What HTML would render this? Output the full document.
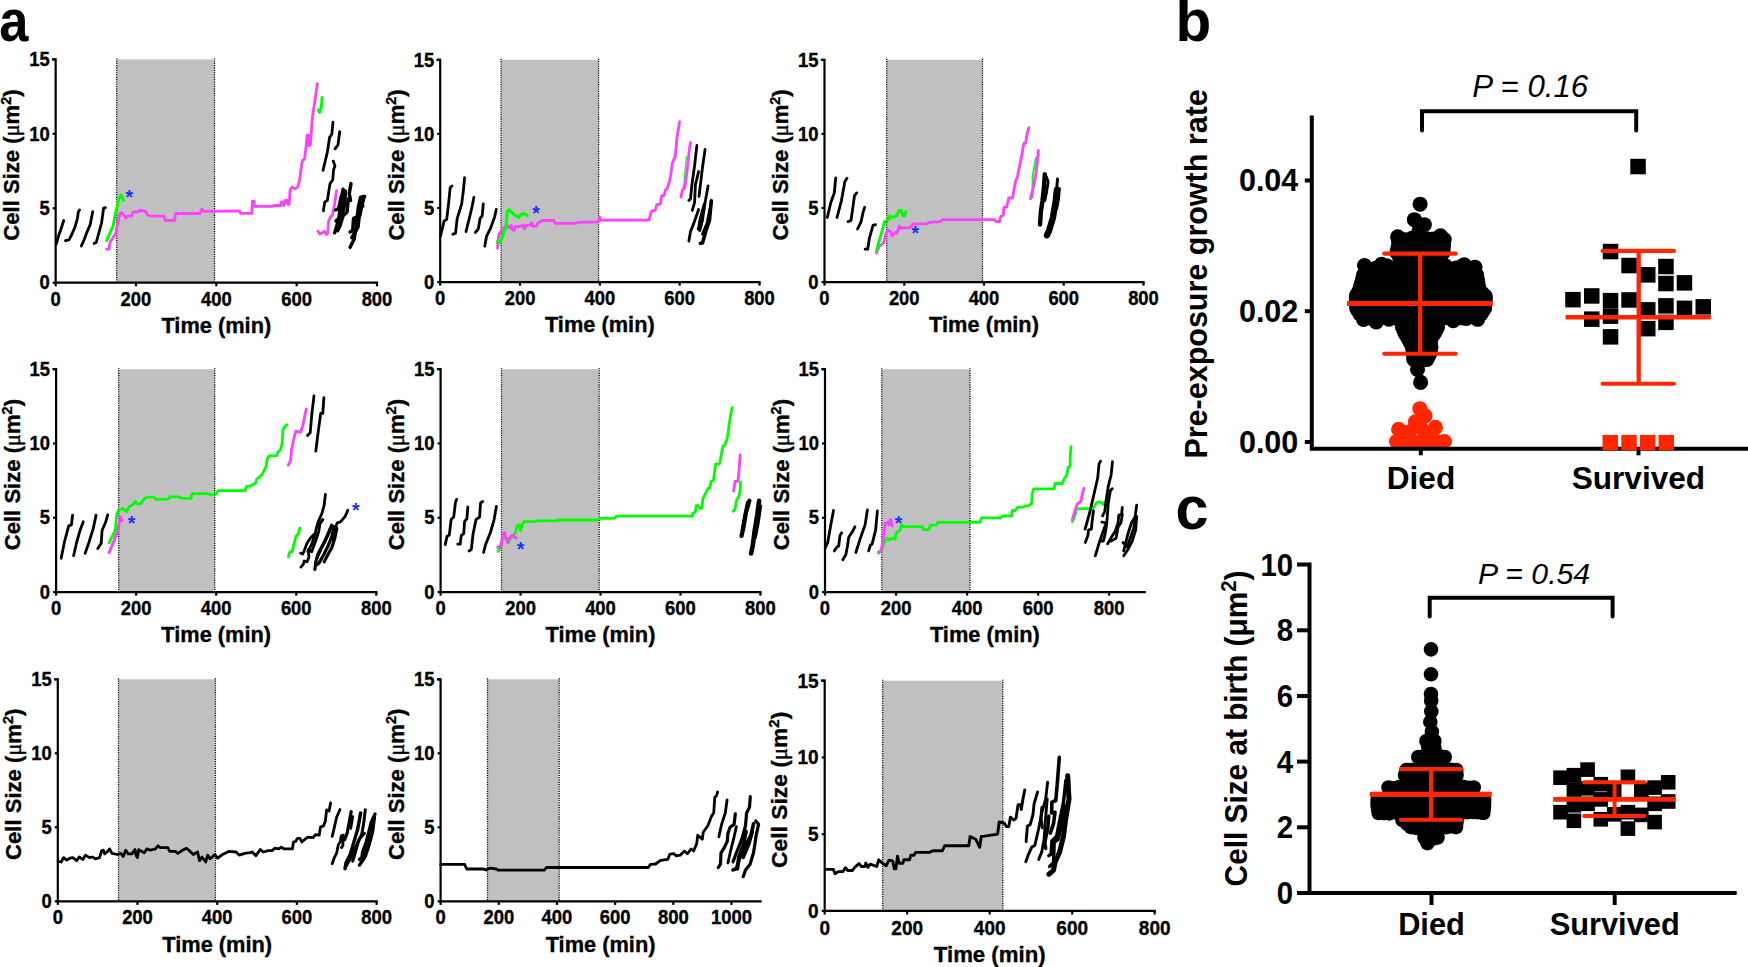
<!DOCTYPE html>
<html lang="en"><head><meta charset="utf-8"><title>Figure</title>
<style>html,body{margin:0;padding:0;background:#fff}svg{display:block}</style>
</head><body>
<svg width="1748" height="967" viewBox="0 0 1748 967">
<rect width="1748" height="967" fill="#fff"/>
<g id="p1">
<rect x="116.7" y="59.4" width="97.8" height="223.3" fill="#c0c0c0"/>
<line x1="116.7" y1="58.4" x2="116.7" y2="282.7" stroke="#000" stroke-width="1.3" stroke-dasharray="1.1 1.2"/>
<line x1="214.5" y1="58.4" x2="214.5" y2="282.7" stroke="#000" stroke-width="1.3" stroke-dasharray="1.1 1.2"/>
<polyline points="56.2,244.2 58.5,236.0 61.0,229.0 63.7,220.5" fill="none" stroke="#000" stroke-width="2.8" stroke-linecap="round" stroke-linejoin="round"/>
<polyline points="65.5,240.7 69.0,239.8 72.0,234.0 75.1,226.7 77.5,218.0 78.3,212.0 79.5,210.0" fill="none" stroke="#000" stroke-width="2.8" stroke-linecap="round" stroke-linejoin="round"/>
<polyline points="81.3,246.0 84.0,240.0 87.0,232.0 90.1,224.9 91.5,218.0 92.7,211.7" fill="none" stroke="#000" stroke-width="2.8" stroke-linecap="round" stroke-linejoin="round"/>
<polyline points="94.1,243.4 96.2,242.5 98.0,236.0 101.5,223.1 102.8,214.0 103.6,208.2 105.4,207.7" fill="none" stroke="#000" stroke-width="2.8" stroke-linecap="round" stroke-linejoin="round"/>
<polyline points="106.8,240.4 110.0,233.0 112.9,226.7 115.0,216.0 117.0,207.0 119.1,197.7 120.8,195.0 122.0,196.5 123.5,200.3" fill="none" stroke="#00ff00" stroke-width="3.0" stroke-linecap="round" stroke-linejoin="round"/>
<polyline points="106.6,249.2 108.9,249.2 110.0,242.5 113.0,237.5 115.6,233.7 117.5,224.0 120.0,213.5 121.7,212.6 124.0,215.5 126.1,217.9 127.9,216.1 131.4,216.1 133.1,212.2 138.4,211.7 139.3,210.5 145.4,211.2 147.2,214.4 149.8,216.1 163.9,216.1 165.1,220.5 174.4,220.5 175.7,213.5 199.9,213.5 201.7,209.1 203.4,211.4 239.5,210.8 240.4,213.4 251.8,213.4 252.4,201.1 254.1,201.1 254.5,206.4 272.0,206.4 273.8,205.5 280.8,205.5 281.2,202.0 282.6,202.0 284.0,205.5 285.2,200.3 287.0,200.3 287.9,204.3 289.3,204.3 290.0,190.6 291.7,187.1 294.9,188.8 297.5,187.1 299.3,181.8 300.8,171.0 302.3,160.7 304.6,159.0 306.0,147.0 307.2,135.2 309.0,135.2 309.0,145.8 310.4,144.9 311.1,134.4 312.5,116.8 315.0,100.0 317.4,83.7" fill="none" stroke="#ff40ff" stroke-width="2.8" stroke-linecap="round" stroke-linejoin="round"/>
<polyline points="322.1,97.5 321.3,108.0 319.5,112.4 318.1,109.8" fill="none" stroke="#00ff00" stroke-width="3.0" stroke-linecap="round" stroke-linejoin="round"/>
<polyline points="333.0,122.1 331.8,134.4 329.7,137.0 327.4,151.9 325.5,160.0 323.0,170.4" fill="none" stroke="#000" stroke-width="2.8" stroke-linecap="round" stroke-linejoin="round"/>
<polyline points="339.7,131.7 338.0,144.9 335.0,148.8" fill="none" stroke="#000" stroke-width="2.8" stroke-linecap="round" stroke-linejoin="round"/>
<polyline points="333.2,161.1 335.0,166.0 333.6,169.5 332.7,180.0 330.0,183.6 327.4,200.3 324.8,202.0 323.4,210.8" fill="none" stroke="#000" stroke-width="2.8" stroke-linecap="round" stroke-linejoin="round"/>
<polyline points="318.0,231.1 319.8,234.1 324.6,231.5 326.4,234.6 327.7,233.3 328.6,221.0 330.3,217.5 332.5,214.8 334.7,203.4 336.5,190.7" fill="none" stroke="#ff40ff" stroke-width="2.8" stroke-linecap="round" stroke-linejoin="round"/>
<polyline points="334.7,232.8 338.7,219.2 341.7,196.4 343.1,189.3" fill="none" stroke="#000" stroke-width="3.5" stroke-linecap="round" stroke-linejoin="round"/>
<polyline points="337.8,230.6 341.3,219.2 344.8,203.4 345.3,191.1" fill="none" stroke="#000" stroke-width="3.5" stroke-linecap="round" stroke-linejoin="round"/>
<polyline points="335.6,210.0 338.7,208.7 341.3,196.4" fill="none" stroke="#000" stroke-width="3.5" stroke-linecap="round" stroke-linejoin="round"/>
<polyline points="339.5,227.1 343.1,215.7 347.0,212.2 348.3,199.0 350.5,200.3 349.2,193.7 351.0,183.6" fill="none" stroke="#000" stroke-width="3.5" stroke-linecap="round" stroke-linejoin="round"/>
<polyline points="336.0,221.0 340.0,218.0 343.5,205.0 345.0,195.0" fill="none" stroke="#000" stroke-width="3.5" stroke-linecap="round" stroke-linejoin="round"/>
<polyline points="350.1,247.3 354.0,239.4 356.2,226.2 358.4,206.9 360.6,197.2 364.6,196.4" fill="none" stroke="#000" stroke-width="3.5" stroke-linecap="round" stroke-linejoin="round"/>
<polyline points="350.1,232.0 352.7,230.6 353.6,218.3 359.8,215.7 361.5,206.9 364.1,196.8" fill="none" stroke="#000" stroke-width="3.5" stroke-linecap="round" stroke-linejoin="round"/>
<polyline points="351.8,237.7 358.0,227.1 360.2,207.8 362.8,206.0" fill="none" stroke="#000" stroke-width="3.5" stroke-linecap="round" stroke-linejoin="round"/>
<text transform="translate(129.30 204.00)" font-family="Liberation Sans, Arial, sans-serif" font-size="19.5" font-weight="bold" font-style="normal" text-anchor="middle" fill="#1432ff" >*</text>
<path d="M53.05 59.4H55.65V282.7H377.0" fill="none" stroke="#000" stroke-width="2.2" stroke-linecap="square"/>
<line x1="52.65" y1="282.70" x2="55.65" y2="282.70" stroke="#000" stroke-width="2.2"/>
<text transform="translate(49.65 289.40) scale(0.945 1)" font-family="Liberation Sans, Arial, sans-serif" font-size="19.5" font-weight="bold" font-style="normal" text-anchor="end" fill="#000" stroke="#000" stroke-width="0.35">0</text>
<line x1="52.65" y1="208.27" x2="55.65" y2="208.27" stroke="#000" stroke-width="2.2"/>
<text transform="translate(49.65 214.97) scale(0.945 1)" font-family="Liberation Sans, Arial, sans-serif" font-size="19.5" font-weight="bold" font-style="normal" text-anchor="end" fill="#000" stroke="#000" stroke-width="0.35">5</text>
<line x1="52.65" y1="133.83" x2="55.65" y2="133.83" stroke="#000" stroke-width="2.2"/>
<text transform="translate(49.65 140.53) scale(0.945 1)" font-family="Liberation Sans, Arial, sans-serif" font-size="19.5" font-weight="bold" font-style="normal" text-anchor="end" fill="#000" stroke="#000" stroke-width="0.35">10</text>
<line x1="52.65" y1="59.40" x2="55.65" y2="59.40" stroke="#000" stroke-width="2.2"/>
<text transform="translate(49.65 66.10) scale(0.945 1)" font-family="Liberation Sans, Arial, sans-serif" font-size="19.5" font-weight="bold" font-style="normal" text-anchor="end" fill="#000" stroke="#000" stroke-width="0.35">15</text>
<line x1="55.65" y1="282.7" x2="55.65" y2="286.3" stroke="#000" stroke-width="2.2"/>
<text transform="translate(55.65 305.80) scale(0.945 1)" font-family="Liberation Sans, Arial, sans-serif" font-size="19.5" font-weight="bold" font-style="normal" text-anchor="middle" fill="#000" stroke="#000" stroke-width="0.35">0</text>
<line x1="135.99" y1="282.7" x2="135.99" y2="286.3" stroke="#000" stroke-width="2.2"/>
<text transform="translate(135.99 305.80) scale(0.945 1)" font-family="Liberation Sans, Arial, sans-serif" font-size="19.5" font-weight="bold" font-style="normal" text-anchor="middle" fill="#000" stroke="#000" stroke-width="0.35">200</text>
<line x1="216.33" y1="282.7" x2="216.33" y2="286.3" stroke="#000" stroke-width="2.2"/>
<text transform="translate(216.33 305.80) scale(0.945 1)" font-family="Liberation Sans, Arial, sans-serif" font-size="19.5" font-weight="bold" font-style="normal" text-anchor="middle" fill="#000" stroke="#000" stroke-width="0.35">400</text>
<line x1="296.66" y1="282.7" x2="296.66" y2="286.3" stroke="#000" stroke-width="2.2"/>
<text transform="translate(296.66 305.80) scale(0.945 1)" font-family="Liberation Sans, Arial, sans-serif" font-size="19.5" font-weight="bold" font-style="normal" text-anchor="middle" fill="#000" stroke="#000" stroke-width="0.35">600</text>
<line x1="377.00" y1="282.7" x2="377.00" y2="286.3" stroke="#000" stroke-width="2.2"/>
<text transform="translate(377.00 305.80) scale(0.945 1)" font-family="Liberation Sans, Arial, sans-serif" font-size="19.5" font-weight="bold" font-style="normal" text-anchor="middle" fill="#000" stroke="#000" stroke-width="0.35">800</text>
<text transform="translate(216.33 333.00)" font-family="Liberation Sans, Arial, sans-serif" font-size="21.8" font-weight="bold" font-style="normal" text-anchor="middle" fill="#000" stroke="#000" stroke-width="0.35">Time (min)</text>
<text transform="translate(19.25 165.05) rotate(-90)" font-family="Liberation Sans, Arial, sans-serif" font-size="22.1" font-weight="bold" font-style="normal" text-anchor="middle" fill="#000" stroke="#000" stroke-width="0.35">Cell Size (<tspan font-family="Liberation Serif, serif" font-weight="normal">μ</tspan>m<tspan dy="-8" font-size="14.5">2</tspan><tspan dy="8">)</tspan></text>
</g>
<g id="p2">
<rect x="501.1" y="59.8" width="97.5" height="222.2" fill="#c0c0c0"/>
<line x1="501.1" y1="58.8" x2="501.1" y2="282.05" stroke="#000" stroke-width="1.3" stroke-dasharray="1.1 1.2"/>
<line x1="598.6" y1="58.8" x2="598.6" y2="282.05" stroke="#000" stroke-width="1.3" stroke-dasharray="1.1 1.2"/>
<polyline points="440.5,236.0 444.1,221.1 446.7,219.3 448.5,204.4 450.2,187.7 452.0,185.9" fill="none" stroke="#000" stroke-width="2.8" stroke-linecap="round" stroke-linejoin="round"/>
<polyline points="452.8,234.2 455.5,233.4 457.2,218.4 461.6,204.4 463.4,190.3 464.6,177.6" fill="none" stroke="#000" stroke-width="2.8" stroke-linecap="round" stroke-linejoin="round"/>
<polyline points="466.0,231.6 469.5,217.5 472.2,206.1 473.9,197.3" fill="none" stroke="#000" stroke-width="2.8" stroke-linecap="round" stroke-linejoin="round"/>
<polyline points="475.3,232.5 478.3,229.0 480.1,218.4 482.2,215.8 483.3,204.0" fill="none" stroke="#000" stroke-width="2.8" stroke-linecap="round" stroke-linejoin="round"/>
<polyline points="484.8,246.2 486.6,236.0 490.6,228.1 494.7,216.7 496.3,209.3" fill="none" stroke="#000" stroke-width="2.8" stroke-linecap="round" stroke-linejoin="round"/>
<polyline points="497.5,248.3 497.8,243.0 498.9,234.2 502.1,229.8 504.7,227.2 508.2,226.3 510.0,228.1 511.2,225.4 512.6,229.8 514.4,230.4 515.2,226.3 517.9,226.9 523.1,225.4 524.6,228.6 525.8,225.4 530.2,225.1 531.6,222.8 532.8,226.3 536.3,226.0 538.1,222.8 542.5,220.5 553.9,220.5 555.1,223.3 575.9,223.3 577.6,222.3 598.4,221.9 599.6,217.0 600.8,220.2 623.3,220.2 648.9,220.1 651.5,211.3 655.4,209.9 656.8,204.6 660.3,204.2 661.7,195.8 664.2,195.4 665.2,190.2 667.3,188.4 670.0,179.6 672.6,162.1 675.2,156.8 677.0,137.5 679.6,121.6" fill="none" stroke="#ff40ff" stroke-width="2.8" stroke-linecap="round" stroke-linejoin="round"/>
<polyline points="497.1,242.1 499.4,243.0 502.9,236.0 504.2,230.7 505.9,229.0 507.3,211.4 509.1,209.6 513.5,214.0 516.1,215.8 518.8,217.5 521.4,214.0 524.9,213.7 527.0,215.3" fill="none" stroke="#00ff00" stroke-width="3.0" stroke-linecap="round" stroke-linejoin="round"/>
<polyline points="686.3,156.4 684.0,183.1 681.4,197.6" fill="none" stroke="#00ff00" stroke-width="1.2" stroke-linecap="round" stroke-linejoin="round"/>
<polyline points="680.9,197.2 682.3,190.2 684.9,187.5 687.5,167.3 689.3,149.8 690.5,142.7" fill="none" stroke="#ff40ff" stroke-width="2.8" stroke-linecap="round" stroke-linejoin="round"/>
<polyline points="696.9,145.4 694.6,165.6 691.9,184.9 690.5,199.0 688.8,200.4" fill="none" stroke="#000" stroke-width="2.8" stroke-linecap="round" stroke-linejoin="round"/>
<polyline points="705.1,149.4 702.5,167.3 700.4,184.9 699.0,196.3" fill="none" stroke="#000" stroke-width="2.8" stroke-linecap="round" stroke-linejoin="round"/>
<polyline points="698.6,171.7 695.4,184.9 694.6,202.5 692.3,210.4" fill="none" stroke="#000" stroke-width="2.8" stroke-linecap="round" stroke-linejoin="round"/>
<polyline points="708.1,185.8 705.1,202.5 702.5,220.1 699.8,230.6 698.1,228.8" fill="none" stroke="#000" stroke-width="2.8" stroke-linecap="round" stroke-linejoin="round"/>
<polyline points="711.3,200.7 709.5,220.1 706.0,230.6 702.5,242.9 700.4,243.3" fill="none" stroke="#000" stroke-width="3.6" stroke-linecap="round" stroke-linejoin="round"/>
<polyline points="698.6,209.5 693.7,223.6 690.5,231.5 688.9,241.1" fill="none" stroke="#000" stroke-width="2.8" stroke-linecap="round" stroke-linejoin="round"/>
<polyline points="704.2,204.2 699.8,220.1 698.6,228.8" fill="none" stroke="#000" stroke-width="2.8" stroke-linecap="round" stroke-linejoin="round"/>
<polyline points="711.3,202.5 706.9,223.6 702.5,234.1" fill="none" stroke="#000" stroke-width="2.8" stroke-linecap="round" stroke-linejoin="round"/>
<text transform="translate(535.98 219.88)" font-family="Liberation Sans, Arial, sans-serif" font-size="19.5" font-weight="bold" font-style="normal" text-anchor="middle" fill="#1432ff" >*</text>
<path d="M437.59999999999997 59.8H440.2V282.05H759.5" fill="none" stroke="#000" stroke-width="2.2" stroke-linecap="square"/>
<line x1="437.2" y1="282.05" x2="440.2" y2="282.05" stroke="#000" stroke-width="2.2"/>
<text transform="translate(434.20 288.75) scale(0.945 1)" font-family="Liberation Sans, Arial, sans-serif" font-size="19.5" font-weight="bold" font-style="normal" text-anchor="end" fill="#000" stroke="#000" stroke-width="0.35">0</text>
<line x1="437.2" y1="207.97" x2="440.2" y2="207.97" stroke="#000" stroke-width="2.2"/>
<text transform="translate(434.20 214.67) scale(0.945 1)" font-family="Liberation Sans, Arial, sans-serif" font-size="19.5" font-weight="bold" font-style="normal" text-anchor="end" fill="#000" stroke="#000" stroke-width="0.35">5</text>
<line x1="437.2" y1="133.88" x2="440.2" y2="133.88" stroke="#000" stroke-width="2.2"/>
<text transform="translate(434.20 140.58) scale(0.945 1)" font-family="Liberation Sans, Arial, sans-serif" font-size="19.5" font-weight="bold" font-style="normal" text-anchor="end" fill="#000" stroke="#000" stroke-width="0.35">10</text>
<line x1="437.2" y1="59.80" x2="440.2" y2="59.80" stroke="#000" stroke-width="2.2"/>
<text transform="translate(434.20 66.50) scale(0.945 1)" font-family="Liberation Sans, Arial, sans-serif" font-size="19.5" font-weight="bold" font-style="normal" text-anchor="end" fill="#000" stroke="#000" stroke-width="0.35">15</text>
<line x1="440.20" y1="282.05" x2="440.20" y2="285.65000000000003" stroke="#000" stroke-width="2.2"/>
<text transform="translate(440.20 305.15) scale(0.945 1)" font-family="Liberation Sans, Arial, sans-serif" font-size="19.5" font-weight="bold" font-style="normal" text-anchor="middle" fill="#000" stroke="#000" stroke-width="0.35">0</text>
<line x1="520.02" y1="282.05" x2="520.02" y2="285.65000000000003" stroke="#000" stroke-width="2.2"/>
<text transform="translate(520.02 305.15) scale(0.945 1)" font-family="Liberation Sans, Arial, sans-serif" font-size="19.5" font-weight="bold" font-style="normal" text-anchor="middle" fill="#000" stroke="#000" stroke-width="0.35">200</text>
<line x1="599.85" y1="282.05" x2="599.85" y2="285.65000000000003" stroke="#000" stroke-width="2.2"/>
<text transform="translate(599.85 305.15) scale(0.945 1)" font-family="Liberation Sans, Arial, sans-serif" font-size="19.5" font-weight="bold" font-style="normal" text-anchor="middle" fill="#000" stroke="#000" stroke-width="0.35">400</text>
<line x1="679.67" y1="282.05" x2="679.67" y2="285.65000000000003" stroke="#000" stroke-width="2.2"/>
<text transform="translate(679.67 305.15) scale(0.945 1)" font-family="Liberation Sans, Arial, sans-serif" font-size="19.5" font-weight="bold" font-style="normal" text-anchor="middle" fill="#000" stroke="#000" stroke-width="0.35">600</text>
<line x1="759.50" y1="282.05" x2="759.50" y2="285.65000000000003" stroke="#000" stroke-width="2.2"/>
<text transform="translate(759.50 305.15) scale(0.945 1)" font-family="Liberation Sans, Arial, sans-serif" font-size="19.5" font-weight="bold" font-style="normal" text-anchor="middle" fill="#000" stroke="#000" stroke-width="0.35">800</text>
<text transform="translate(599.85 332.35)" font-family="Liberation Sans, Arial, sans-serif" font-size="21.8" font-weight="bold" font-style="normal" text-anchor="middle" fill="#000" stroke="#000" stroke-width="0.35">Time (min)</text>
<text transform="translate(403.80 164.93) rotate(-90)" font-family="Liberation Sans, Arial, sans-serif" font-size="22.1" font-weight="bold" font-style="normal" text-anchor="middle" fill="#000" stroke="#000" stroke-width="0.35">Cell Size (<tspan font-family="Liberation Serif, serif" font-weight="normal">μ</tspan>m<tspan dy="-8" font-size="14.5">2</tspan><tspan dy="8">)</tspan></text>
</g>
<g id="p3">
<rect x="886.7" y="59.8" width="95.8" height="222.2" fill="#c0c0c0"/>
<line x1="886.7" y1="58.8" x2="886.7" y2="282.05" stroke="#000" stroke-width="1.3" stroke-dasharray="1.1 1.2"/>
<line x1="982.5" y1="58.8" x2="982.5" y2="282.05" stroke="#000" stroke-width="1.3" stroke-dasharray="1.1 1.2"/>
<polyline points="827.3,217.5 830.8,202.6 834.3,192.9 835.7,178.0" fill="none" stroke="#000" stroke-width="2.8" stroke-linecap="round" stroke-linejoin="round"/>
<polyline points="837.0,217.5 841.4,200.8 844.9,181.5 847.0,178.3" fill="none" stroke="#000" stroke-width="2.8" stroke-linecap="round" stroke-linejoin="round"/>
<polyline points="848.0,221.6 851.0,220.5 852.8,207.9 854.5,195.6 856.7,192.9" fill="none" stroke="#000" stroke-width="2.8" stroke-linecap="round" stroke-linejoin="round"/>
<polyline points="857.5,229.0 861.0,221.9 863.3,211.4 864.7,207.3" fill="none" stroke="#000" stroke-width="2.8" stroke-linecap="round" stroke-linejoin="round"/>
<polyline points="865.1,249.2 867.7,249.2 869.5,237.8 873.0,225.4 875.6,224.6" fill="none" stroke="#000" stroke-width="2.8" stroke-linecap="round" stroke-linejoin="round"/>
<polyline points="876.5,253.0 879.1,246.5 883.5,243.0 886.2,232.5 888.5,230.4 890.6,231.6 892.3,236.0 895.0,232.5 896.7,233.4 899.4,226.0 901.1,228.1 909.9,227.6 913.4,224.0 927.5,223.7 929.2,222.3 940.7,221.6 942.4,219.6 980.2,219.6 980.0,219.7 994.3,219.7 996.3,221.7 999.4,221.7 1000.9,216.3 1003.3,215.5 1004.0,207.3 1006.7,207.0 1008.7,198.0 1012.6,198.0 1015.7,180.6 1017.2,177.5 1021.1,158.9 1023.9,143.4 1025.7,142.6 1027.3,133.3 1028.8,127.6" fill="none" stroke="#ff40ff" stroke-width="2.8" stroke-linecap="round" stroke-linejoin="round"/>
<polyline points="876.5,250.9 879.1,241.3 882.7,229.0 884.4,221.9 888.8,219.3 889.7,215.8 892.3,217.5 896.7,215.8 899.0,210.5 901.1,210.5 902.9,215.8 904.6,215.8 906.0,211.7" fill="none" stroke="#00ff00" stroke-width="3.0" stroke-linecap="round" stroke-linejoin="round"/>
<polyline points="1032.4,197.7 1032.7,176.0 1035.8,158.9 1038.9,154.3" fill="none" stroke="#00ff00" stroke-width="2.0" stroke-linecap="round" stroke-linejoin="round"/>
<polyline points="1030.4,198.9 1033.5,186.8 1035.8,174.4 1037.4,162.0 1038.3,150.4" fill="none" stroke="#ff40ff" stroke-width="2.8" stroke-linecap="round" stroke-linejoin="round"/>
<polyline points="1044.8,174.1 1044.0,186.8 1042.5,200.8 1040.9,211.6 1040.0,224.5" fill="none" stroke="#000" stroke-width="4.4" stroke-linecap="round" stroke-linejoin="round"/>
<polyline points="1046.4,176.7 1048.2,181.9 1046.4,193.0 1044.8,200.8" fill="none" stroke="#000" stroke-width="2.8" stroke-linecap="round" stroke-linejoin="round"/>
<polyline points="1057.5,179.1 1056.7,189.1" fill="none" stroke="#000" stroke-width="3.0" stroke-linecap="round" stroke-linejoin="round"/>
<polyline points="1059.4,188.7 1058.4,199.2 1056.7,208.5" fill="none" stroke="#000" stroke-width="3.0" stroke-linecap="round" stroke-linejoin="round"/>
<polyline points="1056.9,189.9 1055.8,200.8 1052.9,217.8 1049.3,229.9 1047.0,235.2" fill="none" stroke="#000" stroke-width="6.4" stroke-linecap="round" stroke-linejoin="round"/>
<text transform="translate(915.18 239.74)" font-family="Liberation Sans, Arial, sans-serif" font-size="19.5" font-weight="bold" font-style="normal" text-anchor="middle" fill="#1432ff" >*</text>
<path d="M821.9 59.8H824.5V282.05H1143.5" fill="none" stroke="#000" stroke-width="2.2" stroke-linecap="square"/>
<line x1="821.5" y1="282.05" x2="824.5" y2="282.05" stroke="#000" stroke-width="2.2"/>
<text transform="translate(818.50 288.75) scale(0.945 1)" font-family="Liberation Sans, Arial, sans-serif" font-size="19.5" font-weight="bold" font-style="normal" text-anchor="end" fill="#000" stroke="#000" stroke-width="0.35">0</text>
<line x1="821.5" y1="207.97" x2="824.5" y2="207.97" stroke="#000" stroke-width="2.2"/>
<text transform="translate(818.50 214.67) scale(0.945 1)" font-family="Liberation Sans, Arial, sans-serif" font-size="19.5" font-weight="bold" font-style="normal" text-anchor="end" fill="#000" stroke="#000" stroke-width="0.35">5</text>
<line x1="821.5" y1="133.88" x2="824.5" y2="133.88" stroke="#000" stroke-width="2.2"/>
<text transform="translate(818.50 140.58) scale(0.945 1)" font-family="Liberation Sans, Arial, sans-serif" font-size="19.5" font-weight="bold" font-style="normal" text-anchor="end" fill="#000" stroke="#000" stroke-width="0.35">10</text>
<line x1="821.5" y1="59.80" x2="824.5" y2="59.80" stroke="#000" stroke-width="2.2"/>
<text transform="translate(818.50 66.50) scale(0.945 1)" font-family="Liberation Sans, Arial, sans-serif" font-size="19.5" font-weight="bold" font-style="normal" text-anchor="end" fill="#000" stroke="#000" stroke-width="0.35">15</text>
<line x1="824.50" y1="282.05" x2="824.50" y2="285.65000000000003" stroke="#000" stroke-width="2.2"/>
<text transform="translate(824.50 305.15) scale(0.945 1)" font-family="Liberation Sans, Arial, sans-serif" font-size="19.5" font-weight="bold" font-style="normal" text-anchor="middle" fill="#000" stroke="#000" stroke-width="0.35">0</text>
<line x1="904.25" y1="282.05" x2="904.25" y2="285.65000000000003" stroke="#000" stroke-width="2.2"/>
<text transform="translate(904.25 305.15) scale(0.945 1)" font-family="Liberation Sans, Arial, sans-serif" font-size="19.5" font-weight="bold" font-style="normal" text-anchor="middle" fill="#000" stroke="#000" stroke-width="0.35">200</text>
<line x1="984.00" y1="282.05" x2="984.00" y2="285.65000000000003" stroke="#000" stroke-width="2.2"/>
<text transform="translate(984.00 305.15) scale(0.945 1)" font-family="Liberation Sans, Arial, sans-serif" font-size="19.5" font-weight="bold" font-style="normal" text-anchor="middle" fill="#000" stroke="#000" stroke-width="0.35">400</text>
<line x1="1063.75" y1="282.05" x2="1063.75" y2="285.65000000000003" stroke="#000" stroke-width="2.2"/>
<text transform="translate(1063.75 305.15) scale(0.945 1)" font-family="Liberation Sans, Arial, sans-serif" font-size="19.5" font-weight="bold" font-style="normal" text-anchor="middle" fill="#000" stroke="#000" stroke-width="0.35">600</text>
<line x1="1143.50" y1="282.05" x2="1143.50" y2="285.65000000000003" stroke="#000" stroke-width="2.2"/>
<text transform="translate(1143.50 305.15) scale(0.945 1)" font-family="Liberation Sans, Arial, sans-serif" font-size="19.5" font-weight="bold" font-style="normal" text-anchor="middle" fill="#000" stroke="#000" stroke-width="0.35">800</text>
<text transform="translate(984.00 332.35)" font-family="Liberation Sans, Arial, sans-serif" font-size="21.8" font-weight="bold" font-style="normal" text-anchor="middle" fill="#000" stroke="#000" stroke-width="0.35">Time (min)</text>
<text transform="translate(788.10 164.93) rotate(-90)" font-family="Liberation Sans, Arial, sans-serif" font-size="22.1" font-weight="bold" font-style="normal" text-anchor="middle" fill="#000" stroke="#000" stroke-width="0.35">Cell Size (<tspan font-family="Liberation Serif, serif" font-weight="normal">μ</tspan>m<tspan dy="-8" font-size="14.5">2</tspan><tspan dy="8">)</tspan></text>
</g>
<g id="p4">
<rect x="118.7" y="369.2" width="96.0" height="222.8" fill="#c0c0c0"/>
<line x1="118.7" y1="368.2" x2="118.7" y2="592.05" stroke="#000" stroke-width="1.3" stroke-dasharray="1.1 1.2"/>
<line x1="214.7" y1="368.2" x2="214.7" y2="592.05" stroke="#000" stroke-width="1.3" stroke-dasharray="1.1 1.2"/>
<polyline points="61.2,558.3 64.3,542.5 68.7,525.8 71.4,524.9 72.6,515.2" fill="none" stroke="#000" stroke-width="2.8" stroke-linecap="round" stroke-linejoin="round"/>
<polyline points="73.6,555.7 76.6,542.5 80.1,530.2 83.3,521.7" fill="none" stroke="#000" stroke-width="2.8" stroke-linecap="round" stroke-linejoin="round"/>
<polyline points="85.1,553.4 88.9,542.5 93.3,528.4 96.0,515.2" fill="none" stroke="#000" stroke-width="2.8" stroke-linecap="round" stroke-linejoin="round"/>
<polyline points="97.7,548.6 101.2,543.4 102.1,530.2 105.6,522.3 107.7,514.9" fill="none" stroke="#000" stroke-width="2.8" stroke-linecap="round" stroke-linejoin="round"/>
<polyline points="109.1,552.7 111.8,546.0 114.4,539.8 117.1,531.9 118.8,524.9 120.2,517.0 122.3,520.5" fill="none" stroke="#ff40ff" stroke-width="3.0" stroke-linecap="round" stroke-linejoin="round"/>
<polyline points="109.1,542.8 112.7,535.4 115.3,530.2 116.7,514.4 118.5,510.0 123.2,508.7 126.7,511.7 129.4,506.4 132.9,504.7 135.5,501.2 137.3,503.8 140.8,503.8 144.3,498.5 147.8,497.1 154.0,497.1 155.7,499.4 168.0,499.1 170.1,496.8 179.4,496.8 181.2,498.2 190.9,498.5 192.3,493.6 208.4,493.6 210.0,494.6 216.2,494.2 217.9,490.7 245.1,490.7 246.6,486.3 250.4,486.0 255.7,482.8 256.6,479.3 261.8,474.9 264.5,469.6 266.2,466.1 267.1,460.0 268.9,455.9 276.8,455.6 278.5,451.2 280.3,450.3 282.1,443.3 282.9,431.0 283.8,427.8 287.0,424.8" fill="none" stroke="#00ff00" stroke-width="2.8" stroke-linecap="round" stroke-linejoin="round"/>
<polyline points="288.2,465.2 290.5,460.8 291.7,448.5 294.4,436.2 296.1,431.0 300.5,432.4 303.1,424.8 304.9,415.1 306.3,409.0" fill="none" stroke="#ff40ff" stroke-width="2.8" stroke-linecap="round" stroke-linejoin="round"/>
<polyline points="314.0,395.8 311.9,413.4 310.2,432.7 307.5,435.4" fill="none" stroke="#000" stroke-width="2.8" stroke-linecap="round" stroke-linejoin="round"/>
<polyline points="323.9,397.6 322.8,413.4 320.7,413.4 318.1,432.7 315.8,451.2" fill="none" stroke="#000" stroke-width="2.8" stroke-linecap="round" stroke-linejoin="round"/>
<polyline points="299.7,528.2 298.6,533.1 295.8,536.8 294.0,544.2 292.1,551.7 289.8,552.2 288.4,556.8" fill="none" stroke="#00ff00" stroke-width="2.8" stroke-linecap="round" stroke-linejoin="round"/>
<polyline points="325.4,494.4 324.2,505.1 321.9,513.5 318.2,521.9 316.3,528.4 315.4,533.1 310.7,537.7 307.0,543.3 304.2,550.8 302.8,554.0 300.7,553.1" fill="none" stroke="#000" stroke-width="2.8" stroke-linecap="round" stroke-linejoin="round"/>
<polyline points="322.8,519.6 320.0,523.8 318.6,532.1 315.4,541.5 311.7,551.7 308.4,549.8 308.9,557.3 307.0,561.9 304.2,561.0 303.3,564.3 300.9,567.1" fill="none" stroke="#000" stroke-width="2.8" stroke-linecap="round" stroke-linejoin="round"/>
<polyline points="315.4,533.1 311.7,544.2 307.9,551.7" fill="none" stroke="#000" stroke-width="2.8" stroke-linecap="round" stroke-linejoin="round"/>
<polyline points="331.7,525.2 329.3,532.1 323.8,543.3 318.2,553.6 315.8,561.9 314.9,569.4" fill="none" stroke="#000" stroke-width="3.2" stroke-linecap="round" stroke-linejoin="round"/>
<polyline points="334.0,526.6 332.1,535.9 328.4,545.2 323.8,554.5 319.1,562.9 316.8,564.7" fill="none" stroke="#000" stroke-width="3.2" stroke-linecap="round" stroke-linejoin="round"/>
<polyline points="336.8,528.4 334.9,537.7 332.1,547.0 327.5,555.4 324.2,561.9" fill="none" stroke="#000" stroke-width="3.2" stroke-linecap="round" stroke-linejoin="round"/>
<polyline points="330.3,528.4 325.6,539.6 321.0,548.9 317.2,557.3" fill="none" stroke="#000" stroke-width="3.2" stroke-linecap="round" stroke-linejoin="round"/>
<polyline points="347.8,510.3 345.2,516.3 340.5,521.9 337.3,522.8 335.9,526.6 334.0,532.1 333.1,539.6" fill="none" stroke="#000" stroke-width="2.8" stroke-linecap="round" stroke-linejoin="round"/>
<text transform="translate(131.47 529.88)" font-family="Liberation Sans, Arial, sans-serif" font-size="19.5" font-weight="bold" font-style="normal" text-anchor="middle" fill="#1432ff" >*</text>
<text transform="translate(355.70 517.37)" font-family="Liberation Sans, Arial, sans-serif" font-size="19.5" font-weight="bold" font-style="normal" text-anchor="middle" fill="#1432ff" >*</text>
<path d="M53.5 369.2H56.1V592.05H376.3" fill="none" stroke="#000" stroke-width="2.2" stroke-linecap="square"/>
<line x1="53.1" y1="592.05" x2="56.1" y2="592.05" stroke="#000" stroke-width="2.2"/>
<text transform="translate(50.10 598.75) scale(0.945 1)" font-family="Liberation Sans, Arial, sans-serif" font-size="19.5" font-weight="bold" font-style="normal" text-anchor="end" fill="#000" stroke="#000" stroke-width="0.35">0</text>
<line x1="53.1" y1="517.77" x2="56.1" y2="517.77" stroke="#000" stroke-width="2.2"/>
<text transform="translate(50.10 524.47) scale(0.945 1)" font-family="Liberation Sans, Arial, sans-serif" font-size="19.5" font-weight="bold" font-style="normal" text-anchor="end" fill="#000" stroke="#000" stroke-width="0.35">5</text>
<line x1="53.1" y1="443.48" x2="56.1" y2="443.48" stroke="#000" stroke-width="2.2"/>
<text transform="translate(50.10 450.18) scale(0.945 1)" font-family="Liberation Sans, Arial, sans-serif" font-size="19.5" font-weight="bold" font-style="normal" text-anchor="end" fill="#000" stroke="#000" stroke-width="0.35">10</text>
<line x1="53.1" y1="369.20" x2="56.1" y2="369.20" stroke="#000" stroke-width="2.2"/>
<text transform="translate(50.10 375.90) scale(0.945 1)" font-family="Liberation Sans, Arial, sans-serif" font-size="19.5" font-weight="bold" font-style="normal" text-anchor="end" fill="#000" stroke="#000" stroke-width="0.35">15</text>
<line x1="56.10" y1="592.05" x2="56.10" y2="595.65" stroke="#000" stroke-width="2.2"/>
<text transform="translate(56.10 615.15) scale(0.945 1)" font-family="Liberation Sans, Arial, sans-serif" font-size="19.5" font-weight="bold" font-style="normal" text-anchor="middle" fill="#000" stroke="#000" stroke-width="0.35">0</text>
<line x1="136.15" y1="592.05" x2="136.15" y2="595.65" stroke="#000" stroke-width="2.2"/>
<text transform="translate(136.15 615.15) scale(0.945 1)" font-family="Liberation Sans, Arial, sans-serif" font-size="19.5" font-weight="bold" font-style="normal" text-anchor="middle" fill="#000" stroke="#000" stroke-width="0.35">200</text>
<line x1="216.20" y1="592.05" x2="216.20" y2="595.65" stroke="#000" stroke-width="2.2"/>
<text transform="translate(216.20 615.15) scale(0.945 1)" font-family="Liberation Sans, Arial, sans-serif" font-size="19.5" font-weight="bold" font-style="normal" text-anchor="middle" fill="#000" stroke="#000" stroke-width="0.35">400</text>
<line x1="296.25" y1="592.05" x2="296.25" y2="595.65" stroke="#000" stroke-width="2.2"/>
<text transform="translate(296.25 615.15) scale(0.945 1)" font-family="Liberation Sans, Arial, sans-serif" font-size="19.5" font-weight="bold" font-style="normal" text-anchor="middle" fill="#000" stroke="#000" stroke-width="0.35">600</text>
<line x1="376.30" y1="592.05" x2="376.30" y2="595.65" stroke="#000" stroke-width="2.2"/>
<text transform="translate(376.30 615.15) scale(0.945 1)" font-family="Liberation Sans, Arial, sans-serif" font-size="19.5" font-weight="bold" font-style="normal" text-anchor="middle" fill="#000" stroke="#000" stroke-width="0.35">800</text>
<text transform="translate(216.20 642.35)" font-family="Liberation Sans, Arial, sans-serif" font-size="21.8" font-weight="bold" font-style="normal" text-anchor="middle" fill="#000" stroke="#000" stroke-width="0.35">Time (min)</text>
<text transform="translate(19.70 474.62) rotate(-90)" font-family="Liberation Sans, Arial, sans-serif" font-size="22.1" font-weight="bold" font-style="normal" text-anchor="middle" fill="#000" stroke="#000" stroke-width="0.35">Cell Size (<tspan font-family="Liberation Serif, serif" font-weight="normal">μ</tspan>m<tspan dy="-8" font-size="14.5">2</tspan><tspan dy="8">)</tspan></text>
</g>
<g id="p5">
<rect x="501.5" y="369.2" width="97.7" height="222.8" fill="#c0c0c0"/>
<line x1="501.5" y1="368.2" x2="501.5" y2="592.05" stroke="#000" stroke-width="1.3" stroke-dasharray="1.1 1.2"/>
<line x1="599.2" y1="368.2" x2="599.2" y2="592.05" stroke="#000" stroke-width="1.3" stroke-dasharray="1.1 1.2"/>
<polyline points="445.3,544.6 447.0,536.3 449.3,535.1 451.1,519.6 453.7,517.0 455.5,502.1 456.7,499.4" fill="none" stroke="#000" stroke-width="2.8" stroke-linecap="round" stroke-linejoin="round"/>
<polyline points="457.8,544.2 460.2,544.2 461.3,535.4 463.7,533.7 464.6,521.4 466.9,518.8 467.8,507.0" fill="none" stroke="#000" stroke-width="2.8" stroke-linecap="round" stroke-linejoin="round"/>
<polyline points="469.2,550.9 471.3,549.5 473.1,533.7 476.0,519.6 479.6,517.0 480.6,502.9 482.7,501.5" fill="none" stroke="#000" stroke-width="2.8" stroke-linecap="round" stroke-linejoin="round"/>
<polyline points="483.6,552.5 485.4,545.1 490.6,531.9 494.1,519.6 496.4,506.4" fill="none" stroke="#000" stroke-width="2.8" stroke-linecap="round" stroke-linejoin="round"/>
<polyline points="498.0,551.3 499.4,549.5 502.1,539.0 505.6,537.2 508.2,542.5 512.6,535.4 515.2,533.7 517.0,525.8 519.6,524.9 520.5,530.5 522.3,524.9 524.0,521.7 533.7,521.7 535.4,520.9 555.7,520.9 557.4,520.0 597.0,520.0 599.6,518.4 614.5,518.4 616.6,516.1 630.0,516.1 630.8,516.2 692.3,516.2 693.1,513.0 695.3,512.1 696.3,505.6 698.4,505.6 700.2,508.6 701.9,508.1 702.8,499.0 708.1,488.4 709.8,488.1 711.1,481.4 713.4,480.5 714.2,474.4 715.6,464.2 719.5,463.8 723.0,445.9 725.1,444.8 727.4,437.5 730.1,418.1 732.2,407.6" fill="none" stroke="#00ff00" stroke-width="2.8" stroke-linecap="round" stroke-linejoin="round"/>
<polyline points="497.7,547.4 501.2,546.0 502.9,533.7 504.7,532.8 507.3,542.5 510.0,537.2 512.6,535.1 516.1,538.1" fill="none" stroke="#ff40ff" stroke-width="2.8" stroke-linecap="round" stroke-linejoin="round"/>
<polyline points="733.6,491.1 735.0,481.4 738.0,481.0 738.8,472.6 740.2,455.0" fill="none" stroke="#ff40ff" stroke-width="2.8" stroke-linecap="round" stroke-linejoin="round"/>
<polyline points="733.2,511.3 735.0,509.5 736.7,499.8 738.8,497.2 740.1,490.2 740.6,481.9" fill="none" stroke="#00ff00" stroke-width="2.8" stroke-linecap="round" stroke-linejoin="round"/>
<polyline points="749.4,500.7 745.9,513.0 743.2,528.8 741.5,535.9" fill="none" stroke="#000" stroke-width="4.2" stroke-linecap="round" stroke-linejoin="round"/>
<polyline points="747.3,502.5 744.5,516.5 742.0,530.6" fill="none" stroke="#000" stroke-width="2.8" stroke-linecap="round" stroke-linejoin="round"/>
<polyline points="759.1,500.7 757.3,514.8 754.7,530.6 752.9,544.7 751.1,553.4" fill="none" stroke="#000" stroke-width="4.6" stroke-linecap="round" stroke-linejoin="round"/>
<polyline points="760.8,506.0 758.2,523.6 755.5,537.6" fill="none" stroke="#000" stroke-width="2.8" stroke-linecap="round" stroke-linejoin="round"/>
<text transform="translate(520.51 555.89)" font-family="Liberation Sans, Arial, sans-serif" font-size="19.5" font-weight="bold" font-style="normal" text-anchor="middle" fill="#1432ff" >*</text>
<path d="M438.0 369.2H440.6V592.05H760.4" fill="none" stroke="#000" stroke-width="2.2" stroke-linecap="square"/>
<line x1="437.6" y1="592.05" x2="440.6" y2="592.05" stroke="#000" stroke-width="2.2"/>
<text transform="translate(434.60 598.75) scale(0.945 1)" font-family="Liberation Sans, Arial, sans-serif" font-size="19.5" font-weight="bold" font-style="normal" text-anchor="end" fill="#000" stroke="#000" stroke-width="0.35">0</text>
<line x1="437.6" y1="517.77" x2="440.6" y2="517.77" stroke="#000" stroke-width="2.2"/>
<text transform="translate(434.60 524.47) scale(0.945 1)" font-family="Liberation Sans, Arial, sans-serif" font-size="19.5" font-weight="bold" font-style="normal" text-anchor="end" fill="#000" stroke="#000" stroke-width="0.35">5</text>
<line x1="437.6" y1="443.48" x2="440.6" y2="443.48" stroke="#000" stroke-width="2.2"/>
<text transform="translate(434.60 450.18) scale(0.945 1)" font-family="Liberation Sans, Arial, sans-serif" font-size="19.5" font-weight="bold" font-style="normal" text-anchor="end" fill="#000" stroke="#000" stroke-width="0.35">10</text>
<line x1="437.6" y1="369.20" x2="440.6" y2="369.20" stroke="#000" stroke-width="2.2"/>
<text transform="translate(434.60 375.90) scale(0.945 1)" font-family="Liberation Sans, Arial, sans-serif" font-size="19.5" font-weight="bold" font-style="normal" text-anchor="end" fill="#000" stroke="#000" stroke-width="0.35">15</text>
<line x1="440.60" y1="592.05" x2="440.60" y2="595.65" stroke="#000" stroke-width="2.2"/>
<text transform="translate(440.60 615.15) scale(0.945 1)" font-family="Liberation Sans, Arial, sans-serif" font-size="19.5" font-weight="bold" font-style="normal" text-anchor="middle" fill="#000" stroke="#000" stroke-width="0.35">0</text>
<line x1="520.55" y1="592.05" x2="520.55" y2="595.65" stroke="#000" stroke-width="2.2"/>
<text transform="translate(520.55 615.15) scale(0.945 1)" font-family="Liberation Sans, Arial, sans-serif" font-size="19.5" font-weight="bold" font-style="normal" text-anchor="middle" fill="#000" stroke="#000" stroke-width="0.35">200</text>
<line x1="600.50" y1="592.05" x2="600.50" y2="595.65" stroke="#000" stroke-width="2.2"/>
<text transform="translate(600.50 615.15) scale(0.945 1)" font-family="Liberation Sans, Arial, sans-serif" font-size="19.5" font-weight="bold" font-style="normal" text-anchor="middle" fill="#000" stroke="#000" stroke-width="0.35">400</text>
<line x1="680.45" y1="592.05" x2="680.45" y2="595.65" stroke="#000" stroke-width="2.2"/>
<text transform="translate(680.45 615.15) scale(0.945 1)" font-family="Liberation Sans, Arial, sans-serif" font-size="19.5" font-weight="bold" font-style="normal" text-anchor="middle" fill="#000" stroke="#000" stroke-width="0.35">600</text>
<line x1="760.40" y1="592.05" x2="760.40" y2="595.65" stroke="#000" stroke-width="2.2"/>
<text transform="translate(760.40 615.15) scale(0.945 1)" font-family="Liberation Sans, Arial, sans-serif" font-size="19.5" font-weight="bold" font-style="normal" text-anchor="middle" fill="#000" stroke="#000" stroke-width="0.35">800</text>
<text transform="translate(600.50 642.35)" font-family="Liberation Sans, Arial, sans-serif" font-size="21.8" font-weight="bold" font-style="normal" text-anchor="middle" fill="#000" stroke="#000" stroke-width="0.35">Time (min)</text>
<text transform="translate(404.20 474.62) rotate(-90)" font-family="Liberation Sans, Arial, sans-serif" font-size="22.1" font-weight="bold" font-style="normal" text-anchor="middle" fill="#000" stroke="#000" stroke-width="0.35">Cell Size (<tspan font-family="Liberation Serif, serif" font-weight="normal">μ</tspan>m<tspan dy="-8" font-size="14.5">2</tspan><tspan dy="8">)</tspan></text>
</g>
<g id="p6">
<rect x="881.8" y="369.2" width="88.2" height="222.8" fill="#c0c0c0"/>
<line x1="881.8" y1="368.2" x2="881.8" y2="592.05" stroke="#000" stroke-width="1.3" stroke-dasharray="1.1 1.2"/>
<line x1="970.0" y1="368.2" x2="970.0" y2="592.05" stroke="#000" stroke-width="1.3" stroke-dasharray="1.1 1.2"/>
<polyline points="825.2,547.8 827.7,542.5 830.8,524.9 833.5,510.5" fill="none" stroke="#000" stroke-width="2.8" stroke-linecap="round" stroke-linejoin="round"/>
<polyline points="834.3,550.9 837.0,546.9 838.7,546.0 840.0,535.4 841.7,532.8" fill="none" stroke="#000" stroke-width="2.8" stroke-linecap="round" stroke-linejoin="round"/>
<polyline points="842.8,559.7 845.8,554.8 847.5,546.0 848.7,537.2 852.8,531.1 854.9,526.7" fill="none" stroke="#000" stroke-width="2.8" stroke-linecap="round" stroke-linejoin="round"/>
<polyline points="855.8,552.5 860.7,537.2 865.1,524.9 867.4,510.0" fill="none" stroke="#000" stroke-width="2.8" stroke-linecap="round" stroke-linejoin="round"/>
<polyline points="868.6,550.9 870.4,545.1 872.1,544.2 875.6,530.2 877.4,510.8" fill="none" stroke="#000" stroke-width="2.8" stroke-linecap="round" stroke-linejoin="round"/>
<polyline points="878.6,553.0 880.9,551.6 884.4,542.5 887.1,538.1 889.7,539.8 892.3,538.1 895.0,539.0 896.2,532.8 900.2,530.2 901.5,524.9 903.8,526.7 922.2,526.7 923.6,529.6 928.9,529.6 930.1,525.4 936.3,524.9 938.0,522.3 979.9,522.3 981.6,517.9 999.5,517.9 1000.0,518.3 1002.5,516.0 1011.5,516.0 1012.4,510.1 1014.8,510.8 1017.6,507.3 1023.9,507.0 1025.3,505.9 1028.1,505.9 1031.6,503.8 1032.3,493.3 1033.7,488.8 1054.1,488.8 1055.1,483.4 1059.1,483.1 1061.9,484.1 1064.0,479.2 1066.8,475.0 1068.2,467.3 1070.0,465.9 1070.3,455.3 1071.0,446.6" fill="none" stroke="#00ff00" stroke-width="2.8" stroke-linecap="round" stroke-linejoin="round"/>
<polyline points="1072.4,521.4 1074.5,517.2 1076.6,508.7 1092.8,508.7 1096.3,503.1 1098.4,501.7 1101.2,502.4 1103.3,504.5 1104.7,502.0" fill="none" stroke="#00ff00" stroke-width="2.8" stroke-linecap="round" stroke-linejoin="round"/>
<polyline points="878.6,551.6 880.9,551.3 882.7,542.5 884.4,528.4 885.3,523.1 887.9,522.3 888.8,524.9 890.2,519.6 890.9,519.6 892.0,525.8" fill="none" stroke="#ff40ff" stroke-width="2.8" stroke-linecap="round" stroke-linejoin="round"/>
<polyline points="1072.4,519.3 1075.2,510.1 1077.3,503.8 1080.8,501.7 1082.2,494.7 1083.9,488.3" fill="none" stroke="#ff40ff" stroke-width="2.8" stroke-linecap="round" stroke-linejoin="round"/>
<polyline points="1100.5,461.2 1099.1,463.7 1097.7,477.8 1094.2,493.3 1090.0,511.5 1085.1,529.1" fill="none" stroke="#000" stroke-width="2.8" stroke-linecap="round" stroke-linejoin="round"/>
<polyline points="1112.5,461.6 1111.1,475.0 1108.3,486.2 1106.2,500.3 1104.7,511.5 1102.6,515.8" fill="none" stroke="#000" stroke-width="2.8" stroke-linecap="round" stroke-linejoin="round"/>
<polyline points="1112.2,488.8 1110.4,490.5 1108.3,503.1 1106.9,521.4 1104.7,527.0 1101.2,536.9 1098.4,545.3 1095.3,555.8" fill="none" stroke="#000" stroke-width="2.8" stroke-linecap="round" stroke-linejoin="round"/>
<polyline points="1093.5,510.8 1092.1,521.4 1091.4,529.1 1088.6,529.8 1087.9,535.4 1085.3,542.5" fill="none" stroke="#000" stroke-width="2.8" stroke-linecap="round" stroke-linejoin="round"/>
<polyline points="1101.9,522.1 1106.9,522.8 1105.4,532.6 1103.3,541.1 1100.9,541.1" fill="none" stroke="#000" stroke-width="2.8" stroke-linecap="round" stroke-linejoin="round"/>
<polyline points="1122.3,507.3 1121.6,514.4 1118.8,515.1 1118.1,522.8 1115.3,531.2 1112.5,535.4 1107.6,543.9" fill="none" stroke="#000" stroke-width="2.8" stroke-linecap="round" stroke-linejoin="round"/>
<polyline points="1122.3,514.4 1120.9,522.8 1118.1,527.0 1116.0,538.3 1111.1,541.1" fill="none" stroke="#000" stroke-width="2.8" stroke-linecap="round" stroke-linejoin="round"/>
<polyline points="1136.7,505.2 1135.0,517.2 1131.5,522.8 1127.9,534.0 1125.1,545.3 1123.7,550.9" fill="none" stroke="#000" stroke-width="2.8" stroke-linecap="round" stroke-linejoin="round"/>
<polyline points="1136.7,516.5 1135.7,529.8 1132.2,541.1 1127.9,549.5 1123.7,555.8" fill="none" stroke="#000" stroke-width="2.8" stroke-linecap="round" stroke-linejoin="round"/>
<polyline points="1123.0,542.5 1127.2,546.7 1133.6,528.4 1135.0,520.0" fill="none" stroke="#000" stroke-width="2.8" stroke-linecap="round" stroke-linejoin="round"/>
<text transform="translate(898.66 529.88)" font-family="Liberation Sans, Arial, sans-serif" font-size="19.5" font-weight="bold" font-style="normal" text-anchor="middle" fill="#1432ff" >*</text>
<path d="M822.4 369.2H825.0V592.05H1144.7250000000001" fill="none" stroke="#000" stroke-width="2.2" stroke-linecap="square"/>
<line x1="822.0" y1="592.05" x2="825.0" y2="592.05" stroke="#000" stroke-width="2.2"/>
<text transform="translate(819.00 598.75) scale(0.945 1)" font-family="Liberation Sans, Arial, sans-serif" font-size="19.5" font-weight="bold" font-style="normal" text-anchor="end" fill="#000" stroke="#000" stroke-width="0.35">0</text>
<line x1="822.0" y1="517.77" x2="825.0" y2="517.77" stroke="#000" stroke-width="2.2"/>
<text transform="translate(819.00 524.47) scale(0.945 1)" font-family="Liberation Sans, Arial, sans-serif" font-size="19.5" font-weight="bold" font-style="normal" text-anchor="end" fill="#000" stroke="#000" stroke-width="0.35">5</text>
<line x1="822.0" y1="443.48" x2="825.0" y2="443.48" stroke="#000" stroke-width="2.2"/>
<text transform="translate(819.00 450.18) scale(0.945 1)" font-family="Liberation Sans, Arial, sans-serif" font-size="19.5" font-weight="bold" font-style="normal" text-anchor="end" fill="#000" stroke="#000" stroke-width="0.35">10</text>
<line x1="822.0" y1="369.20" x2="825.0" y2="369.20" stroke="#000" stroke-width="2.2"/>
<text transform="translate(819.00 375.90) scale(0.945 1)" font-family="Liberation Sans, Arial, sans-serif" font-size="19.5" font-weight="bold" font-style="normal" text-anchor="end" fill="#000" stroke="#000" stroke-width="0.35">15</text>
<line x1="825.00" y1="592.05" x2="825.00" y2="595.65" stroke="#000" stroke-width="2.2"/>
<text transform="translate(825.00 615.15) scale(0.945 1)" font-family="Liberation Sans, Arial, sans-serif" font-size="19.5" font-weight="bold" font-style="normal" text-anchor="middle" fill="#000" stroke="#000" stroke-width="0.35">0</text>
<line x1="896.05" y1="592.05" x2="896.05" y2="595.65" stroke="#000" stroke-width="2.2"/>
<text transform="translate(896.05 615.15) scale(0.945 1)" font-family="Liberation Sans, Arial, sans-serif" font-size="19.5" font-weight="bold" font-style="normal" text-anchor="middle" fill="#000" stroke="#000" stroke-width="0.35">200</text>
<line x1="967.10" y1="592.05" x2="967.10" y2="595.65" stroke="#000" stroke-width="2.2"/>
<text transform="translate(967.10 615.15) scale(0.945 1)" font-family="Liberation Sans, Arial, sans-serif" font-size="19.5" font-weight="bold" font-style="normal" text-anchor="middle" fill="#000" stroke="#000" stroke-width="0.35">400</text>
<line x1="1038.15" y1="592.05" x2="1038.15" y2="595.65" stroke="#000" stroke-width="2.2"/>
<text transform="translate(1038.15 615.15) scale(0.945 1)" font-family="Liberation Sans, Arial, sans-serif" font-size="19.5" font-weight="bold" font-style="normal" text-anchor="middle" fill="#000" stroke="#000" stroke-width="0.35">600</text>
<line x1="1109.20" y1="592.05" x2="1109.20" y2="595.65" stroke="#000" stroke-width="2.2"/>
<text transform="translate(1109.20 615.15) scale(0.945 1)" font-family="Liberation Sans, Arial, sans-serif" font-size="19.5" font-weight="bold" font-style="normal" text-anchor="middle" fill="#000" stroke="#000" stroke-width="0.35">800</text>
<text transform="translate(984.86 642.35)" font-family="Liberation Sans, Arial, sans-serif" font-size="21.8" font-weight="bold" font-style="normal" text-anchor="middle" fill="#000" stroke="#000" stroke-width="0.35">Time (min)</text>
<text transform="translate(788.60 474.62) rotate(-90)" font-family="Liberation Sans, Arial, sans-serif" font-size="22.1" font-weight="bold" font-style="normal" text-anchor="middle" fill="#000" stroke="#000" stroke-width="0.35">Cell Size (<tspan font-family="Liberation Serif, serif" font-weight="normal">μ</tspan>m<tspan dy="-8" font-size="14.5">2</tspan><tspan dy="8">)</tspan></text>
</g>
<g id="p7">
<rect x="118.5" y="679.3" width="96.9" height="222.0" fill="#c0c0c0"/>
<line x1="118.5" y1="678.3" x2="118.5" y2="901.3" stroke="#000" stroke-width="1.3" stroke-dasharray="1.1 1.2"/>
<line x1="215.4" y1="678.3" x2="215.4" y2="901.3" stroke="#000" stroke-width="1.3" stroke-dasharray="1.1 1.2"/>
<polyline points="58.1,861.3 61.2,862.0 63.6,857.6 66.7,860.1 69.9,858.2 73.0,857.6 76.7,860.7 79.2,857.0 82.9,859.5 85.4,855.1 89.7,857.6 92.8,857.0 95.3,858.9 99.6,857.6 101.5,850.8 103.3,850.2 104.6,853.9 107.7,851.4 109.6,848.9 112.0,853.3 117.6,854.5 120.7,853.3 123.2,856.4 125.7,850.2 128.2,853.9 131.9,853.9 135.0,849.6 136.2,855.8 137.5,857.6 138.7,849.6 141.8,851.4 144.3,852.7 146.8,848.9 150.5,850.2 155.5,848.9 157.9,845.8 160.4,847.7 167.9,847.7 169.7,851.4 175.3,851.4 177.8,853.3 181.5,850.8 186.5,848.3 190.2,851.4 193.3,854.5 197.6,852.0 199.5,860.7 202.0,857.0 205.7,862.0 207.6,855.1 210.0,858.9 215.0,854.5 217.5,858.2 222.5,854.5 228.7,851.4 236.1,852.0 239.2,855.1 244.8,853.3 250.0,852.7 252.2,852.0 255.9,855.7 260.2,849.5 263.3,852.0 268.3,850.7 272.0,850.7 275.1,848.2 278.9,848.9 281.3,847.2 284.4,848.9 292.5,848.9 293.4,842.0 295.6,841.4 297.5,838.3 300.0,838.3 301.8,842.0 305.5,838.9 308.0,837.1 313.0,837.7 315.5,834.6 319.2,835.2 320.4,827.1 323.5,825.9 325.4,820.9 326.6,809.8 329.1,811.0 330.6,803.0" fill="none" stroke="#000" stroke-width="2.8" stroke-linecap="round" stroke-linejoin="round"/>
<polyline points="340.0,809.5 336.6,817.2 334.1,828.4 332.2,836.5" fill="none" stroke="#000" stroke-width="2.8" stroke-linecap="round" stroke-linejoin="round"/>
<polyline points="332.2,863.7 334.1,858.2 336.6,853.2 338.4,844.5 340.3,842.0 341.3,835.8 343.4,835.2 342.8,845.8 341.5,847.6" fill="none" stroke="#000" stroke-width="2.8" stroke-linecap="round" stroke-linejoin="round"/>
<polyline points="351.2,811.6 349.0,823.4 347.1,833.3 344.6,839.6" fill="none" stroke="#000" stroke-width="3.2" stroke-linecap="round" stroke-linejoin="round"/>
<polyline points="352.7,816.6 350.8,828.4" fill="none" stroke="#000" stroke-width="2.8" stroke-linecap="round" stroke-linejoin="round"/>
<polyline points="345.0,868.7 345.9,863.1 350.2,854.4 353.9,842.0 357.6,829.6 360.7,812.9" fill="none" stroke="#000" stroke-width="3.4" stroke-linecap="round" stroke-linejoin="round"/>
<polyline points="365.3,809.8 363.8,822.2 362.0,833.3 358.3,842.0 355.2,853.2 352.7,861.3" fill="none" stroke="#000" stroke-width="3.0" stroke-linecap="round" stroke-linejoin="round"/>
<polyline points="364.5,833.3 358.9,839.6 352.7,854.4 346.5,865.6" fill="none" stroke="#000" stroke-width="3.0" stroke-linecap="round" stroke-linejoin="round"/>
<polyline points="375.0,814.1 371.3,822.2 368.8,832.1 366.3,842.0 362.6,852.0 362.0,857.5 359.5,859.4" fill="none" stroke="#000" stroke-width="3.4" stroke-linecap="round" stroke-linejoin="round"/>
<polyline points="374.4,817.2 372.5,832.1 368.8,845.8 365.1,856.9 359.5,865.0" fill="none" stroke="#000" stroke-width="3.4" stroke-linecap="round" stroke-linejoin="round"/>
<polyline points="371.3,824.7 367.6,839.6 363.2,854.4" fill="none" stroke="#000" stroke-width="3.0" stroke-linecap="round" stroke-linejoin="round"/>
<path d="M55.199999999999996 679.3H57.8V901.3H376.6" fill="none" stroke="#000" stroke-width="2.2" stroke-linecap="square"/>
<line x1="54.8" y1="901.30" x2="57.8" y2="901.30" stroke="#000" stroke-width="2.2"/>
<text transform="translate(51.80 908.00) scale(0.945 1)" font-family="Liberation Sans, Arial, sans-serif" font-size="19.5" font-weight="bold" font-style="normal" text-anchor="end" fill="#000" stroke="#000" stroke-width="0.35">0</text>
<line x1="54.8" y1="827.30" x2="57.8" y2="827.30" stroke="#000" stroke-width="2.2"/>
<text transform="translate(51.80 834.00) scale(0.945 1)" font-family="Liberation Sans, Arial, sans-serif" font-size="19.5" font-weight="bold" font-style="normal" text-anchor="end" fill="#000" stroke="#000" stroke-width="0.35">5</text>
<line x1="54.8" y1="753.30" x2="57.8" y2="753.30" stroke="#000" stroke-width="2.2"/>
<text transform="translate(51.80 760.00) scale(0.945 1)" font-family="Liberation Sans, Arial, sans-serif" font-size="19.5" font-weight="bold" font-style="normal" text-anchor="end" fill="#000" stroke="#000" stroke-width="0.35">10</text>
<line x1="54.8" y1="679.30" x2="57.8" y2="679.30" stroke="#000" stroke-width="2.2"/>
<text transform="translate(51.80 686.00) scale(0.945 1)" font-family="Liberation Sans, Arial, sans-serif" font-size="19.5" font-weight="bold" font-style="normal" text-anchor="end" fill="#000" stroke="#000" stroke-width="0.35">15</text>
<line x1="57.80" y1="901.3" x2="57.80" y2="904.9" stroke="#000" stroke-width="2.2"/>
<text transform="translate(57.80 924.40) scale(0.945 1)" font-family="Liberation Sans, Arial, sans-serif" font-size="19.5" font-weight="bold" font-style="normal" text-anchor="middle" fill="#000" stroke="#000" stroke-width="0.35">0</text>
<line x1="137.50" y1="901.3" x2="137.50" y2="904.9" stroke="#000" stroke-width="2.2"/>
<text transform="translate(137.50 924.40) scale(0.945 1)" font-family="Liberation Sans, Arial, sans-serif" font-size="19.5" font-weight="bold" font-style="normal" text-anchor="middle" fill="#000" stroke="#000" stroke-width="0.35">200</text>
<line x1="217.20" y1="901.3" x2="217.20" y2="904.9" stroke="#000" stroke-width="2.2"/>
<text transform="translate(217.20 924.40) scale(0.945 1)" font-family="Liberation Sans, Arial, sans-serif" font-size="19.5" font-weight="bold" font-style="normal" text-anchor="middle" fill="#000" stroke="#000" stroke-width="0.35">400</text>
<line x1="296.90" y1="901.3" x2="296.90" y2="904.9" stroke="#000" stroke-width="2.2"/>
<text transform="translate(296.90 924.40) scale(0.945 1)" font-family="Liberation Sans, Arial, sans-serif" font-size="19.5" font-weight="bold" font-style="normal" text-anchor="middle" fill="#000" stroke="#000" stroke-width="0.35">600</text>
<line x1="376.60" y1="901.3" x2="376.60" y2="904.9" stroke="#000" stroke-width="2.2"/>
<text transform="translate(376.60 924.40) scale(0.945 1)" font-family="Liberation Sans, Arial, sans-serif" font-size="19.5" font-weight="bold" font-style="normal" text-anchor="middle" fill="#000" stroke="#000" stroke-width="0.35">800</text>
<text transform="translate(217.20 951.60)" font-family="Liberation Sans, Arial, sans-serif" font-size="21.8" font-weight="bold" font-style="normal" text-anchor="middle" fill="#000" stroke="#000" stroke-width="0.35">Time (min)</text>
<text transform="translate(21.40 784.30) rotate(-90)" font-family="Liberation Sans, Arial, sans-serif" font-size="22.1" font-weight="bold" font-style="normal" text-anchor="middle" fill="#000" stroke="#000" stroke-width="0.35">Cell Size (<tspan font-family="Liberation Serif, serif" font-weight="normal">μ</tspan>m<tspan dy="-8" font-size="14.5">2</tspan><tspan dy="8">)</tspan></text>
</g>
<g id="p8">
<rect x="487.5" y="679.3" width="71.7" height="222.0" fill="#c0c0c0"/>
<line x1="487.5" y1="678.3" x2="487.5" y2="901.3" stroke="#000" stroke-width="1.3" stroke-dasharray="1.1 1.2"/>
<line x1="559.2" y1="678.3" x2="559.2" y2="901.3" stroke="#000" stroke-width="1.3" stroke-dasharray="1.1 1.2"/>
<polyline points="440.7,864.4 464.6,864.4 466.7,869.0 483.5,869.0 486.0,870.0 490.1,868.1 496.3,869.0 498.0,870.2 544.3,870.2 546.4,867.5 648.3,867.5 650.3,864.4 655.5,864.0 660.6,860.3 667.9,859.3 669.9,854.1 674.0,853.7 676.1,855.8 680.2,855.2 684.3,851.0 687.4,853.7 691.1,849.0 693.6,851.0 696.7,843.8 697.7,835.2 702.3,839.2 703.2,832.3 708.0,825.5 711.4,816.4 713.7,813.0 714.8,797.1 716.5,795.9 717.6,791.9" fill="none" stroke="#000" stroke-width="2.8" stroke-linecap="round" stroke-linejoin="round"/>
<polyline points="727.1,799.9 725.3,813.0 721.6,824.4 718.8,836.9" fill="none" stroke="#000" stroke-width="2.8" stroke-linecap="round" stroke-linejoin="round"/>
<polyline points="735.3,813.9 734.1,824.4 730.1,827.2 727.9,833.5 727.3,841.4 723.9,848.3 721.0,852.8 720.5,864.2 718.2,867.6" fill="none" stroke="#000" stroke-width="3.2" stroke-linecap="round" stroke-linejoin="round"/>
<polyline points="736.4,826.6 734.1,836.9 730.7,850.5 727.9,863.0" fill="none" stroke="#000" stroke-width="2.8" stroke-linecap="round" stroke-linejoin="round"/>
<polyline points="750.3,796.5 749.5,807.3 746.6,813.0 745.5,825.5 743.8,832.3 741.0,841.4 736.4,852.8 733.0,861.9" fill="none" stroke="#000" stroke-width="3.2" stroke-linecap="round" stroke-linejoin="round"/>
<polyline points="755.7,821.0 758.6,824.4 756.3,834.6 754.6,846.0 753.5,852.8 750.1,864.2 745.5,869.9 743.2,876.7" fill="none" stroke="#000" stroke-width="3.2" stroke-linecap="round" stroke-linejoin="round"/>
<polyline points="753.5,823.8 751.2,834.6 745.5,846.0 739.8,857.4 736.4,868.7 733.0,869.9" fill="none" stroke="#000" stroke-width="3.6" stroke-linecap="round" stroke-linejoin="round"/>
<polyline points="746.1,831.2 743.8,843.7 738.7,857.4 737.5,868.7" fill="none" stroke="#000" stroke-width="3.6" stroke-linecap="round" stroke-linejoin="round"/>
<polyline points="752.3,831.2 748.9,843.7 743.2,857.4" fill="none" stroke="#000" stroke-width="3.6" stroke-linecap="round" stroke-linejoin="round"/>
<path d="M438.0 679.3H440.6V901.3H760.5625" fill="none" stroke="#000" stroke-width="2.2" stroke-linecap="square"/>
<line x1="437.6" y1="901.30" x2="440.6" y2="901.30" stroke="#000" stroke-width="2.2"/>
<text transform="translate(434.60 908.00) scale(0.945 1)" font-family="Liberation Sans, Arial, sans-serif" font-size="19.5" font-weight="bold" font-style="normal" text-anchor="end" fill="#000" stroke="#000" stroke-width="0.35">0</text>
<line x1="437.6" y1="827.30" x2="440.6" y2="827.30" stroke="#000" stroke-width="2.2"/>
<text transform="translate(434.60 834.00) scale(0.945 1)" font-family="Liberation Sans, Arial, sans-serif" font-size="19.5" font-weight="bold" font-style="normal" text-anchor="end" fill="#000" stroke="#000" stroke-width="0.35">5</text>
<line x1="437.6" y1="753.30" x2="440.6" y2="753.30" stroke="#000" stroke-width="2.2"/>
<text transform="translate(434.60 760.00) scale(0.945 1)" font-family="Liberation Sans, Arial, sans-serif" font-size="19.5" font-weight="bold" font-style="normal" text-anchor="end" fill="#000" stroke="#000" stroke-width="0.35">10</text>
<line x1="437.6" y1="679.30" x2="440.6" y2="679.30" stroke="#000" stroke-width="2.2"/>
<text transform="translate(434.60 686.00) scale(0.945 1)" font-family="Liberation Sans, Arial, sans-serif" font-size="19.5" font-weight="bold" font-style="normal" text-anchor="end" fill="#000" stroke="#000" stroke-width="0.35">15</text>
<line x1="440.60" y1="901.3" x2="440.60" y2="904.9" stroke="#000" stroke-width="2.2"/>
<text transform="translate(440.60 924.40) scale(0.945 1)" font-family="Liberation Sans, Arial, sans-serif" font-size="19.5" font-weight="bold" font-style="normal" text-anchor="middle" fill="#000" stroke="#000" stroke-width="0.35">0</text>
<line x1="498.78" y1="901.3" x2="498.78" y2="904.9" stroke="#000" stroke-width="2.2"/>
<text transform="translate(498.78 924.40) scale(0.945 1)" font-family="Liberation Sans, Arial, sans-serif" font-size="19.5" font-weight="bold" font-style="normal" text-anchor="middle" fill="#000" stroke="#000" stroke-width="0.35">200</text>
<line x1="556.95" y1="901.3" x2="556.95" y2="904.9" stroke="#000" stroke-width="2.2"/>
<text transform="translate(556.95 924.40) scale(0.945 1)" font-family="Liberation Sans, Arial, sans-serif" font-size="19.5" font-weight="bold" font-style="normal" text-anchor="middle" fill="#000" stroke="#000" stroke-width="0.35">400</text>
<line x1="615.12" y1="901.3" x2="615.12" y2="904.9" stroke="#000" stroke-width="2.2"/>
<text transform="translate(615.12 924.40) scale(0.945 1)" font-family="Liberation Sans, Arial, sans-serif" font-size="19.5" font-weight="bold" font-style="normal" text-anchor="middle" fill="#000" stroke="#000" stroke-width="0.35">600</text>
<line x1="673.30" y1="901.3" x2="673.30" y2="904.9" stroke="#000" stroke-width="2.2"/>
<text transform="translate(673.30 924.40) scale(0.945 1)" font-family="Liberation Sans, Arial, sans-serif" font-size="19.5" font-weight="bold" font-style="normal" text-anchor="middle" fill="#000" stroke="#000" stroke-width="0.35">800</text>
<line x1="731.47" y1="901.3" x2="731.47" y2="904.9" stroke="#000" stroke-width="2.2"/>
<text transform="translate(731.47 924.40) scale(0.945 1)" font-family="Liberation Sans, Arial, sans-serif" font-size="19.5" font-weight="bold" font-style="normal" text-anchor="middle" fill="#000" stroke="#000" stroke-width="0.35">1000</text>
<text transform="translate(600.58 951.60)" font-family="Liberation Sans, Arial, sans-serif" font-size="21.8" font-weight="bold" font-style="normal" text-anchor="middle" fill="#000" stroke="#000" stroke-width="0.35">Time (min)</text>
<text transform="translate(404.20 784.30) rotate(-90)" font-family="Liberation Sans, Arial, sans-serif" font-size="22.1" font-weight="bold" font-style="normal" text-anchor="middle" fill="#000" stroke="#000" stroke-width="0.35">Cell Size (<tspan font-family="Liberation Serif, serif" font-weight="normal">μ</tspan>m<tspan dy="-8" font-size="14.5">2</tspan><tspan dy="8">)</tspan></text>
</g>
<g id="p9">
<rect x="882.7" y="680.7" width="120.1" height="230.2" fill="#c0c0c0"/>
<line x1="882.7" y1="679.7" x2="882.7" y2="910.9" stroke="#000" stroke-width="1.3" stroke-dasharray="1.1 1.2"/>
<line x1="1002.8" y1="679.7" x2="1002.8" y2="910.9" stroke="#000" stroke-width="1.3" stroke-dasharray="1.1 1.2"/>
<polyline points="825.4,869.4 833.4,869.4 835.0,873.7 838.2,871.6 843.0,871.6 845.4,867.8 847.8,870.5 852.6,870.5 854.7,867.3 859.0,863.6 861.5,866.5 864.7,866.5 865.9,863.0 867.9,867.3 870.3,864.1 876.7,866.5 878.8,859.8 882.3,863.3 886.3,865.7 889.0,860.1 892.7,860.9 894.3,868.9 895.9,868.9 897.5,856.1 899.1,863.3 902.8,863.3 903.9,859.8 909.5,859.8 910.8,855.3 914.0,855.3 915.6,852.4 929.5,852.4 932.7,850.8 942.3,850.8 944.7,845.7 968.8,845.7 970.1,836.4 976.0,839.6 979.7,847.3 981.3,836.4 984.8,836.1 997.6,834.1 999.2,822.0 1004.0,822.9 1006.4,826.5 1008.8,826.5 1010.4,817.2 1013.6,820.0 1016.0,818.4 1018.1,804.8 1020.8,804.8 1021.3,809.6 1023.2,797.6 1024.8,789.9" fill="none" stroke="#000" stroke-width="2.9" stroke-linecap="round" stroke-linejoin="round"/>
<polyline points="1037.6,792.0 1034.1,803.6 1033.0,814.5 1030.2,824.6 1027.4,826.1 1026.1,841.6" fill="none" stroke="#000" stroke-width="2.9" stroke-linecap="round" stroke-linejoin="round"/>
<polyline points="1047.6,782.2 1045.7,799.0 1041.8,812.9 1038.7,828.5 1034.8,845.5 1031.7,847.1 1028.6,854.1 1025.8,861.8" fill="none" stroke="#000" stroke-width="2.9" stroke-linecap="round" stroke-linejoin="round"/>
<polyline points="1041.8,807.5 1041.0,817.6 1042.3,827.7" fill="none" stroke="#000" stroke-width="2.9" stroke-linecap="round" stroke-linejoin="round"/>
<polyline points="1047.2,799.0 1045.4,820.7 1044.1,839.3 1041.8,851.7 1038.7,859.5" fill="none" stroke="#000" stroke-width="2.9" stroke-linecap="round" stroke-linejoin="round"/>
<polyline points="1059.3,757.4 1057.3,783.5 1055.8,800.5 1051.9,802.1 1051.6,812.9 1055.0,812.2 1053.5,823.8 1050.3,833.1" fill="none" stroke="#000" stroke-width="3.6" stroke-linecap="round" stroke-linejoin="round"/>
<polyline points="1048.8,816.0 1048.0,826.9 1044.9,842.4 1045.7,848.6" fill="none" stroke="#000" stroke-width="3.4" stroke-linecap="round" stroke-linejoin="round"/>
<polyline points="1067.7,775.7 1069.0,799.0 1065.9,817.6 1063.5,836.2 1059.7,851.7 1055.0,862.6 1053.5,870.4 1048.8,874.2" fill="none" stroke="#000" stroke-width="5.0" stroke-linecap="round" stroke-linejoin="round"/>
<polyline points="1065.9,780.3 1063.5,802.1 1059.7,820.7 1056.6,836.2 1051.9,840.9 1051.1,854.1 1048.8,855.6" fill="none" stroke="#000" stroke-width="3.4" stroke-linecap="round" stroke-linejoin="round"/>
<polyline points="1064.3,805.2 1061.2,826.9 1058.1,839.3 1054.2,842.4 1053.5,862.6 1049.6,866.5" fill="none" stroke="#000" stroke-width="3.4" stroke-linecap="round" stroke-linejoin="round"/>
<path d="M822.1 680.7H824.7V910.9H1154.7" fill="none" stroke="#000" stroke-width="2.2" stroke-linecap="square"/>
<line x1="821.7" y1="910.90" x2="824.7" y2="910.90" stroke="#000" stroke-width="2.2"/>
<text transform="translate(818.70 917.82) scale(0.945 1)" font-family="Liberation Sans, Arial, sans-serif" font-size="20.1435" font-weight="bold" font-style="normal" text-anchor="end" fill="#000" stroke="#000" stroke-width="0.35">0</text>
<line x1="821.7" y1="834.17" x2="824.7" y2="834.17" stroke="#000" stroke-width="2.2"/>
<text transform="translate(818.70 841.09) scale(0.945 1)" font-family="Liberation Sans, Arial, sans-serif" font-size="20.1435" font-weight="bold" font-style="normal" text-anchor="end" fill="#000" stroke="#000" stroke-width="0.35">5</text>
<line x1="821.7" y1="757.43" x2="824.7" y2="757.43" stroke="#000" stroke-width="2.2"/>
<text transform="translate(818.70 764.35) scale(0.945 1)" font-family="Liberation Sans, Arial, sans-serif" font-size="20.1435" font-weight="bold" font-style="normal" text-anchor="end" fill="#000" stroke="#000" stroke-width="0.35">10</text>
<line x1="821.7" y1="680.70" x2="824.7" y2="680.70" stroke="#000" stroke-width="2.2"/>
<text transform="translate(818.70 687.62) scale(0.945 1)" font-family="Liberation Sans, Arial, sans-serif" font-size="20.1435" font-weight="bold" font-style="normal" text-anchor="end" fill="#000" stroke="#000" stroke-width="0.35">15</text>
<line x1="824.70" y1="910.9" x2="824.70" y2="914.5" stroke="#000" stroke-width="2.2"/>
<text transform="translate(824.70 934.76) scale(0.945 1)" font-family="Liberation Sans, Arial, sans-serif" font-size="20.1435" font-weight="bold" font-style="normal" text-anchor="middle" fill="#000" stroke="#000" stroke-width="0.35">0</text>
<line x1="907.20" y1="910.9" x2="907.20" y2="914.5" stroke="#000" stroke-width="2.2"/>
<text transform="translate(907.20 934.76) scale(0.945 1)" font-family="Liberation Sans, Arial, sans-serif" font-size="20.1435" font-weight="bold" font-style="normal" text-anchor="middle" fill="#000" stroke="#000" stroke-width="0.35">200</text>
<line x1="989.70" y1="910.9" x2="989.70" y2="914.5" stroke="#000" stroke-width="2.2"/>
<text transform="translate(989.70 934.76) scale(0.945 1)" font-family="Liberation Sans, Arial, sans-serif" font-size="20.1435" font-weight="bold" font-style="normal" text-anchor="middle" fill="#000" stroke="#000" stroke-width="0.35">400</text>
<line x1="1072.20" y1="910.9" x2="1072.20" y2="914.5" stroke="#000" stroke-width="2.2"/>
<text transform="translate(1072.20 934.76) scale(0.945 1)" font-family="Liberation Sans, Arial, sans-serif" font-size="20.1435" font-weight="bold" font-style="normal" text-anchor="middle" fill="#000" stroke="#000" stroke-width="0.35">600</text>
<line x1="1154.70" y1="910.9" x2="1154.70" y2="914.5" stroke="#000" stroke-width="2.2"/>
<text transform="translate(1154.70 934.76) scale(0.945 1)" font-family="Liberation Sans, Arial, sans-serif" font-size="20.1435" font-weight="bold" font-style="normal" text-anchor="middle" fill="#000" stroke="#000" stroke-width="0.35">800</text>
<text transform="translate(989.70 961.96)" font-family="Liberation Sans, Arial, sans-serif" font-size="22.192400000000003" font-weight="bold" font-style="normal" text-anchor="middle" fill="#000" stroke="#000" stroke-width="0.35">Time (min)</text>
<text transform="translate(787.10 789.80) rotate(-90)" font-family="Liberation Sans, Arial, sans-serif" font-size="22.8293" font-weight="bold" font-style="normal" text-anchor="middle" fill="#000" stroke="#000" stroke-width="0.35">Cell Size (<tspan font-family="Liberation Serif, serif" font-weight="normal">μ</tspan>m<tspan dy="-8" font-size="15.0">2</tspan><tspan dy="8">)</tspan></text>
</g>
<text transform="translate(-0.80 41.30) scale(0.875 1)" font-family="Liberation Sans, Arial, sans-serif" font-size="60" font-weight="bold" font-style="normal" text-anchor="start" fill="#000" >a</text>
<text transform="translate(1175.50 40.90) scale(0.975 1)" font-family="Liberation Sans, Arial, sans-serif" font-size="60" font-weight="bold" font-style="normal" text-anchor="start" fill="#000" >b</text>
<text transform="translate(1175.60 528.50) scale(0.98 1)" font-family="Liberation Sans, Arial, sans-serif" font-size="60.5" font-weight="bold" font-style="normal" text-anchor="start" fill="#000" >c</text>
<g id="pb">
<g fill="#000"><circle cx="1398.5" cy="240.0" r="7.55"/><circle cx="1403.5" cy="239.5" r="7.55"/><circle cx="1408.5" cy="240.1" r="7.55"/><circle cx="1413.5" cy="239.7" r="7.55"/><circle cx="1418.5" cy="240.2" r="7.55"/><circle cx="1423.5" cy="240.3" r="7.55"/><circle cx="1428.5" cy="239.1" r="7.55"/><circle cx="1433.5" cy="239.0" r="7.55"/><circle cx="1438.5" cy="240.7" r="7.55"/><circle cx="1443.5" cy="240.0" r="7.55"/><circle cx="1398.5" cy="245.0" r="7.55"/><circle cx="1403.5" cy="244.5" r="7.55"/><circle cx="1408.5" cy="244.5" r="7.55"/><circle cx="1413.5" cy="246.0" r="7.55"/><circle cx="1418.5" cy="244.9" r="7.55"/><circle cx="1423.5" cy="245.7" r="7.55"/><circle cx="1428.5" cy="245.0" r="7.55"/><circle cx="1433.5" cy="245.3" r="7.55"/><circle cx="1438.5" cy="244.3" r="7.55"/><circle cx="1443.5" cy="245.0" r="7.55"/><circle cx="1397.8" cy="248.8" r="7.55"/><circle cx="1402.8" cy="249.1" r="7.55"/><circle cx="1407.9" cy="249.5" r="7.55"/><circle cx="1412.9" cy="248.8" r="7.55"/><circle cx="1418.0" cy="249.3" r="7.55"/><circle cx="1423.0" cy="249.1" r="7.55"/><circle cx="1428.1" cy="247.9" r="7.55"/><circle cx="1433.1" cy="249.3" r="7.55"/><circle cx="1438.2" cy="249.0" r="7.55"/><circle cx="1443.2" cy="248.8" r="7.55"/><circle cx="1397.0" cy="252.6" r="7.55"/><circle cx="1402.1" cy="252.2" r="7.55"/><circle cx="1407.2" cy="251.7" r="7.55"/><circle cx="1412.3" cy="253.3" r="7.55"/><circle cx="1417.4" cy="252.5" r="7.55"/><circle cx="1422.6" cy="253.0" r="7.55"/><circle cx="1427.7" cy="253.4" r="7.55"/><circle cx="1432.8" cy="253.0" r="7.55"/><circle cx="1437.9" cy="253.4" r="7.55"/><circle cx="1443.0" cy="252.6" r="7.55"/><circle cx="1366.0" cy="270.0" r="7.55"/><circle cx="1371.4" cy="269.8" r="7.55"/><circle cx="1376.8" cy="270.6" r="7.55"/><circle cx="1382.1" cy="269.9" r="7.55"/><circle cx="1387.5" cy="270.9" r="7.55"/><circle cx="1392.9" cy="270.8" r="7.55"/><circle cx="1398.2" cy="269.2" r="7.55"/><circle cx="1403.6" cy="269.3" r="7.55"/><circle cx="1409.0" cy="269.4" r="7.55"/><circle cx="1414.4" cy="270.9" r="7.55"/><circle cx="1419.8" cy="269.9" r="7.55"/><circle cx="1425.1" cy="270.3" r="7.55"/><circle cx="1430.5" cy="269.6" r="7.55"/><circle cx="1435.9" cy="270.0" r="7.55"/><circle cx="1441.2" cy="269.8" r="7.55"/><circle cx="1446.6" cy="269.7" r="7.55"/><circle cx="1452.0" cy="270.2" r="7.55"/><circle cx="1457.4" cy="270.2" r="7.55"/><circle cx="1462.8" cy="270.8" r="7.55"/><circle cx="1468.1" cy="270.4" r="7.55"/><circle cx="1473.5" cy="270.0" r="7.55"/><circle cx="1363.5" cy="275.0" r="7.55"/><circle cx="1368.9" cy="275.9" r="7.55"/><circle cx="1374.3" cy="275.7" r="7.55"/><circle cx="1379.7" cy="276.0" r="7.55"/><circle cx="1385.1" cy="275.3" r="7.55"/><circle cx="1390.5" cy="274.3" r="7.55"/><circle cx="1395.8" cy="275.7" r="7.55"/><circle cx="1401.2" cy="275.9" r="7.55"/><circle cx="1406.6" cy="275.8" r="7.55"/><circle cx="1412.0" cy="275.1" r="7.55"/><circle cx="1417.4" cy="275.4" r="7.55"/><circle cx="1422.8" cy="274.4" r="7.55"/><circle cx="1428.2" cy="275.7" r="7.55"/><circle cx="1433.6" cy="275.1" r="7.55"/><circle cx="1439.0" cy="274.6" r="7.55"/><circle cx="1444.4" cy="274.1" r="7.55"/><circle cx="1449.7" cy="275.7" r="7.55"/><circle cx="1455.1" cy="276.0" r="7.55"/><circle cx="1460.5" cy="274.2" r="7.55"/><circle cx="1465.9" cy="275.6" r="7.55"/><circle cx="1471.3" cy="274.8" r="7.55"/><circle cx="1476.7" cy="275.0" r="7.55"/><circle cx="1362.6" cy="279.0" r="7.55"/><circle cx="1368.1" cy="278.3" r="7.55"/><circle cx="1373.5" cy="278.6" r="7.55"/><circle cx="1379.0" cy="279.5" r="7.55"/><circle cx="1384.4" cy="279.7" r="7.55"/><circle cx="1389.9" cy="278.1" r="7.55"/><circle cx="1395.4" cy="279.2" r="7.55"/><circle cx="1400.8" cy="278.1" r="7.55"/><circle cx="1406.3" cy="279.4" r="7.55"/><circle cx="1411.7" cy="278.7" r="7.55"/><circle cx="1417.2" cy="279.8" r="7.55"/><circle cx="1422.7" cy="280.0" r="7.55"/><circle cx="1428.1" cy="279.0" r="7.55"/><circle cx="1433.6" cy="280.0" r="7.55"/><circle cx="1439.0" cy="278.6" r="7.55"/><circle cx="1444.5" cy="278.2" r="7.55"/><circle cx="1450.0" cy="279.2" r="7.55"/><circle cx="1455.4" cy="278.1" r="7.55"/><circle cx="1460.9" cy="278.4" r="7.55"/><circle cx="1466.3" cy="278.8" r="7.55"/><circle cx="1471.8" cy="279.2" r="7.55"/><circle cx="1477.2" cy="279.0" r="7.55"/><circle cx="1361.7" cy="283.0" r="7.55"/><circle cx="1367.0" cy="282.3" r="7.55"/><circle cx="1372.3" cy="282.1" r="7.55"/><circle cx="1377.5" cy="283.7" r="7.55"/><circle cx="1382.8" cy="282.6" r="7.55"/><circle cx="1388.1" cy="283.9" r="7.55"/><circle cx="1393.4" cy="283.8" r="7.55"/><circle cx="1398.6" cy="282.8" r="7.55"/><circle cx="1403.9" cy="282.9" r="7.55"/><circle cx="1409.2" cy="283.0" r="7.55"/><circle cx="1414.5" cy="283.3" r="7.55"/><circle cx="1419.8" cy="283.2" r="7.55"/><circle cx="1425.0" cy="283.1" r="7.55"/><circle cx="1430.3" cy="283.2" r="7.55"/><circle cx="1435.6" cy="283.9" r="7.55"/><circle cx="1440.9" cy="283.0" r="7.55"/><circle cx="1446.1" cy="282.9" r="7.55"/><circle cx="1451.4" cy="283.4" r="7.55"/><circle cx="1456.7" cy="282.5" r="7.55"/><circle cx="1462.0" cy="282.6" r="7.55"/><circle cx="1467.2" cy="284.0" r="7.55"/><circle cx="1472.5" cy="283.0" r="7.55"/><circle cx="1477.8" cy="283.0" r="7.55"/><circle cx="1360.6" cy="286.5" r="7.55"/><circle cx="1366.0" cy="286.6" r="7.55"/><circle cx="1371.3" cy="285.5" r="7.55"/><circle cx="1376.7" cy="286.3" r="7.55"/><circle cx="1382.0" cy="286.7" r="7.55"/><circle cx="1387.4" cy="285.5" r="7.55"/><circle cx="1392.7" cy="286.7" r="7.55"/><circle cx="1398.1" cy="286.8" r="7.55"/><circle cx="1403.4" cy="285.6" r="7.55"/><circle cx="1408.8" cy="286.8" r="7.55"/><circle cx="1414.1" cy="286.4" r="7.55"/><circle cx="1419.5" cy="286.9" r="7.55"/><circle cx="1424.9" cy="286.2" r="7.55"/><circle cx="1430.2" cy="286.9" r="7.55"/><circle cx="1435.6" cy="287.0" r="7.55"/><circle cx="1440.9" cy="285.5" r="7.55"/><circle cx="1446.3" cy="285.6" r="7.55"/><circle cx="1451.6" cy="286.9" r="7.55"/><circle cx="1457.0" cy="287.4" r="7.55"/><circle cx="1462.3" cy="286.0" r="7.55"/><circle cx="1467.7" cy="286.4" r="7.55"/><circle cx="1473.0" cy="286.7" r="7.55"/><circle cx="1478.4" cy="286.5" r="7.55"/><circle cx="1359.5" cy="290.0" r="7.55"/><circle cx="1364.9" cy="289.6" r="7.55"/><circle cx="1370.4" cy="289.7" r="7.55"/><circle cx="1375.8" cy="289.6" r="7.55"/><circle cx="1381.2" cy="289.7" r="7.55"/><circle cx="1386.7" cy="290.2" r="7.55"/><circle cx="1392.1" cy="289.6" r="7.55"/><circle cx="1397.5" cy="289.8" r="7.55"/><circle cx="1403.0" cy="290.5" r="7.55"/><circle cx="1408.4" cy="289.1" r="7.55"/><circle cx="1413.8" cy="290.1" r="7.55"/><circle cx="1419.2" cy="290.5" r="7.55"/><circle cx="1424.7" cy="289.6" r="7.55"/><circle cx="1430.1" cy="289.4" r="7.55"/><circle cx="1435.5" cy="290.6" r="7.55"/><circle cx="1441.0" cy="289.5" r="7.55"/><circle cx="1446.4" cy="289.4" r="7.55"/><circle cx="1451.8" cy="289.9" r="7.55"/><circle cx="1457.3" cy="290.4" r="7.55"/><circle cx="1462.7" cy="289.2" r="7.55"/><circle cx="1468.1" cy="289.6" r="7.55"/><circle cx="1473.6" cy="289.7" r="7.55"/><circle cx="1479.0" cy="290.0" r="7.55"/><circle cx="1358.1" cy="293.0" r="7.55"/><circle cx="1363.5" cy="293.7" r="7.55"/><circle cx="1368.9" cy="292.9" r="7.55"/><circle cx="1374.3" cy="293.7" r="7.55"/><circle cx="1379.7" cy="292.3" r="7.55"/><circle cx="1385.0" cy="292.7" r="7.55"/><circle cx="1390.4" cy="293.3" r="7.55"/><circle cx="1395.8" cy="293.8" r="7.55"/><circle cx="1401.2" cy="292.9" r="7.55"/><circle cx="1406.6" cy="292.5" r="7.55"/><circle cx="1412.0" cy="292.2" r="7.55"/><circle cx="1417.4" cy="293.1" r="7.55"/><circle cx="1422.8" cy="292.4" r="7.55"/><circle cx="1428.2" cy="293.6" r="7.55"/><circle cx="1433.5" cy="293.7" r="7.55"/><circle cx="1438.9" cy="292.4" r="7.55"/><circle cx="1444.3" cy="292.6" r="7.55"/><circle cx="1449.7" cy="293.6" r="7.55"/><circle cx="1455.1" cy="293.3" r="7.55"/><circle cx="1460.5" cy="293.6" r="7.55"/><circle cx="1465.9" cy="292.7" r="7.55"/><circle cx="1471.3" cy="292.3" r="7.55"/><circle cx="1476.7" cy="292.6" r="7.55"/><circle cx="1482.0" cy="293.0" r="7.55"/><circle cx="1356.7" cy="296.0" r="7.55"/><circle cx="1362.0" cy="296.6" r="7.55"/><circle cx="1367.4" cy="295.5" r="7.55"/><circle cx="1372.8" cy="295.7" r="7.55"/><circle cx="1378.1" cy="295.8" r="7.55"/><circle cx="1383.5" cy="295.8" r="7.55"/><circle cx="1388.8" cy="295.8" r="7.55"/><circle cx="1394.2" cy="296.8" r="7.55"/><circle cx="1399.5" cy="295.3" r="7.55"/><circle cx="1404.8" cy="295.0" r="7.55"/><circle cx="1410.2" cy="296.9" r="7.55"/><circle cx="1415.5" cy="296.8" r="7.55"/><circle cx="1420.9" cy="297.0" r="7.55"/><circle cx="1426.2" cy="295.9" r="7.55"/><circle cx="1431.6" cy="296.9" r="7.55"/><circle cx="1437.0" cy="296.9" r="7.55"/><circle cx="1442.3" cy="295.4" r="7.55"/><circle cx="1447.6" cy="296.5" r="7.55"/><circle cx="1453.0" cy="296.7" r="7.55"/><circle cx="1458.3" cy="296.3" r="7.55"/><circle cx="1463.7" cy="296.0" r="7.55"/><circle cx="1469.0" cy="295.6" r="7.55"/><circle cx="1474.4" cy="295.7" r="7.55"/><circle cx="1479.8" cy="295.5" r="7.55"/><circle cx="1485.1" cy="296.0" r="7.55"/><circle cx="1356.4" cy="299.0" r="7.55"/><circle cx="1361.8" cy="298.1" r="7.55"/><circle cx="1367.1" cy="299.2" r="7.55"/><circle cx="1372.5" cy="298.6" r="7.55"/><circle cx="1377.9" cy="299.6" r="7.55"/><circle cx="1383.2" cy="298.1" r="7.55"/><circle cx="1388.6" cy="299.8" r="7.55"/><circle cx="1393.9" cy="299.4" r="7.55"/><circle cx="1399.3" cy="299.8" r="7.55"/><circle cx="1404.7" cy="299.8" r="7.55"/><circle cx="1410.0" cy="299.8" r="7.55"/><circle cx="1415.4" cy="299.2" r="7.55"/><circle cx="1420.8" cy="298.0" r="7.55"/><circle cx="1426.1" cy="299.5" r="7.55"/><circle cx="1431.5" cy="298.3" r="7.55"/><circle cx="1436.8" cy="298.6" r="7.55"/><circle cx="1442.2" cy="299.3" r="7.55"/><circle cx="1447.6" cy="299.0" r="7.55"/><circle cx="1452.9" cy="298.8" r="7.55"/><circle cx="1458.3" cy="299.9" r="7.55"/><circle cx="1463.6" cy="299.2" r="7.55"/><circle cx="1469.0" cy="298.7" r="7.55"/><circle cx="1474.4" cy="298.5" r="7.55"/><circle cx="1479.7" cy="299.7" r="7.55"/><circle cx="1485.1" cy="299.0" r="7.55"/><circle cx="1356.1" cy="302.0" r="7.55"/><circle cx="1361.5" cy="302.0" r="7.55"/><circle cx="1366.8" cy="302.6" r="7.55"/><circle cx="1372.2" cy="301.7" r="7.55"/><circle cx="1377.6" cy="301.4" r="7.55"/><circle cx="1383.0" cy="302.1" r="7.55"/><circle cx="1388.3" cy="302.6" r="7.55"/><circle cx="1393.7" cy="301.3" r="7.55"/><circle cx="1399.1" cy="302.6" r="7.55"/><circle cx="1404.5" cy="302.8" r="7.55"/><circle cx="1409.8" cy="302.6" r="7.55"/><circle cx="1415.2" cy="302.6" r="7.55"/><circle cx="1420.6" cy="301.0" r="7.55"/><circle cx="1426.0" cy="302.3" r="7.55"/><circle cx="1431.3" cy="302.7" r="7.55"/><circle cx="1436.7" cy="301.1" r="7.55"/><circle cx="1442.1" cy="301.5" r="7.55"/><circle cx="1447.5" cy="301.5" r="7.55"/><circle cx="1452.8" cy="302.1" r="7.55"/><circle cx="1458.2" cy="301.8" r="7.55"/><circle cx="1463.6" cy="301.9" r="7.55"/><circle cx="1469.0" cy="302.6" r="7.55"/><circle cx="1474.3" cy="301.0" r="7.55"/><circle cx="1479.7" cy="301.1" r="7.55"/><circle cx="1485.1" cy="302.0" r="7.55"/><circle cx="1356.5" cy="305.0" r="7.55"/><circle cx="1361.9" cy="304.3" r="7.55"/><circle cx="1367.2" cy="304.2" r="7.55"/><circle cx="1372.6" cy="304.1" r="7.55"/><circle cx="1377.9" cy="305.9" r="7.55"/><circle cx="1383.3" cy="305.7" r="7.55"/><circle cx="1388.6" cy="304.2" r="7.55"/><circle cx="1394.0" cy="305.0" r="7.55"/><circle cx="1399.3" cy="304.6" r="7.55"/><circle cx="1404.6" cy="304.6" r="7.55"/><circle cx="1410.0" cy="304.7" r="7.55"/><circle cx="1415.3" cy="305.3" r="7.55"/><circle cx="1420.7" cy="305.2" r="7.55"/><circle cx="1426.0" cy="304.7" r="7.55"/><circle cx="1431.4" cy="304.4" r="7.55"/><circle cx="1436.7" cy="304.7" r="7.55"/><circle cx="1442.0" cy="304.2" r="7.55"/><circle cx="1447.4" cy="305.1" r="7.55"/><circle cx="1452.7" cy="305.4" r="7.55"/><circle cx="1458.1" cy="304.8" r="7.55"/><circle cx="1463.4" cy="304.2" r="7.55"/><circle cx="1468.8" cy="304.4" r="7.55"/><circle cx="1474.1" cy="304.7" r="7.55"/><circle cx="1479.5" cy="305.2" r="7.55"/><circle cx="1484.8" cy="305.0" r="7.55"/><circle cx="1357.0" cy="308.0" r="7.55"/><circle cx="1362.3" cy="308.6" r="7.55"/><circle cx="1367.6" cy="307.8" r="7.55"/><circle cx="1372.9" cy="308.6" r="7.55"/><circle cx="1378.2" cy="308.2" r="7.55"/><circle cx="1383.6" cy="307.9" r="7.55"/><circle cx="1388.9" cy="307.7" r="7.55"/><circle cx="1394.2" cy="308.0" r="7.55"/><circle cx="1399.5" cy="308.4" r="7.55"/><circle cx="1404.8" cy="307.8" r="7.55"/><circle cx="1410.1" cy="308.4" r="7.55"/><circle cx="1415.4" cy="307.9" r="7.55"/><circle cx="1420.8" cy="307.5" r="7.55"/><circle cx="1426.1" cy="308.1" r="7.55"/><circle cx="1431.4" cy="308.4" r="7.55"/><circle cx="1436.7" cy="307.1" r="7.55"/><circle cx="1442.0" cy="307.8" r="7.55"/><circle cx="1447.3" cy="307.9" r="7.55"/><circle cx="1452.6" cy="308.8" r="7.55"/><circle cx="1457.9" cy="308.9" r="7.55"/><circle cx="1463.2" cy="307.7" r="7.55"/><circle cx="1468.6" cy="308.8" r="7.55"/><circle cx="1473.9" cy="308.6" r="7.55"/><circle cx="1479.2" cy="307.5" r="7.55"/><circle cx="1484.5" cy="308.0" r="7.55"/><circle cx="1358.5" cy="311.0" r="7.55"/><circle cx="1363.9" cy="310.9" r="7.55"/><circle cx="1369.3" cy="310.2" r="7.55"/><circle cx="1374.7" cy="311.6" r="7.55"/><circle cx="1380.1" cy="311.3" r="7.55"/><circle cx="1385.5" cy="311.8" r="7.55"/><circle cx="1390.9" cy="311.6" r="7.55"/><circle cx="1396.3" cy="311.3" r="7.55"/><circle cx="1401.7" cy="311.5" r="7.55"/><circle cx="1407.1" cy="311.1" r="7.55"/><circle cx="1412.5" cy="310.2" r="7.55"/><circle cx="1417.9" cy="311.2" r="7.55"/><circle cx="1423.3" cy="310.0" r="7.55"/><circle cx="1428.7" cy="310.3" r="7.55"/><circle cx="1434.1" cy="311.5" r="7.55"/><circle cx="1439.5" cy="310.1" r="7.55"/><circle cx="1444.9" cy="310.2" r="7.55"/><circle cx="1450.3" cy="310.2" r="7.55"/><circle cx="1455.7" cy="311.8" r="7.55"/><circle cx="1461.1" cy="310.4" r="7.55"/><circle cx="1466.5" cy="310.0" r="7.55"/><circle cx="1471.9" cy="311.7" r="7.55"/><circle cx="1477.3" cy="310.2" r="7.55"/><circle cx="1482.8" cy="311.0" r="7.55"/><circle cx="1360.0" cy="314.0" r="7.55"/><circle cx="1365.5" cy="314.7" r="7.55"/><circle cx="1371.0" cy="314.3" r="7.55"/><circle cx="1376.5" cy="314.7" r="7.55"/><circle cx="1382.0" cy="314.9" r="7.55"/><circle cx="1387.5" cy="314.2" r="7.55"/><circle cx="1393.0" cy="314.6" r="7.55"/><circle cx="1398.5" cy="313.1" r="7.55"/><circle cx="1404.0" cy="314.5" r="7.55"/><circle cx="1409.5" cy="314.0" r="7.55"/><circle cx="1415.0" cy="314.4" r="7.55"/><circle cx="1420.5" cy="313.2" r="7.55"/><circle cx="1426.0" cy="314.5" r="7.55"/><circle cx="1431.5" cy="314.9" r="7.55"/><circle cx="1437.0" cy="313.1" r="7.55"/><circle cx="1442.5" cy="313.6" r="7.55"/><circle cx="1448.0" cy="314.1" r="7.55"/><circle cx="1453.5" cy="314.7" r="7.55"/><circle cx="1459.0" cy="313.5" r="7.55"/><circle cx="1464.5" cy="313.4" r="7.55"/><circle cx="1470.0" cy="313.5" r="7.55"/><circle cx="1475.5" cy="314.2" r="7.55"/><circle cx="1481.0" cy="314.0" r="7.55"/><circle cx="1364.5" cy="317.5" r="7.55"/><circle cx="1369.8" cy="318.0" r="7.55"/><circle cx="1375.2" cy="317.3" r="7.55"/><circle cx="1380.5" cy="317.2" r="7.55"/><circle cx="1385.8" cy="317.3" r="7.55"/><circle cx="1391.2" cy="317.2" r="7.55"/><circle cx="1396.5" cy="317.3" r="7.55"/><circle cx="1401.8" cy="316.7" r="7.55"/><circle cx="1407.2" cy="317.5" r="7.55"/><circle cx="1412.5" cy="318.4" r="7.55"/><circle cx="1417.8" cy="317.3" r="7.55"/><circle cx="1423.2" cy="318.0" r="7.55"/><circle cx="1428.5" cy="316.8" r="7.55"/><circle cx="1433.8" cy="317.9" r="7.55"/><circle cx="1439.2" cy="318.0" r="7.55"/><circle cx="1444.5" cy="317.8" r="7.55"/><circle cx="1449.8" cy="317.5" r="7.55"/><circle cx="1455.2" cy="317.5" r="7.55"/><circle cx="1460.5" cy="317.8" r="7.55"/><circle cx="1465.8" cy="318.3" r="7.55"/><circle cx="1471.2" cy="316.8" r="7.55"/><circle cx="1476.5" cy="317.5" r="7.55"/><circle cx="1402.5" cy="327.0" r="7.55"/><circle cx="1407.5" cy="326.2" r="7.55"/><circle cx="1412.5" cy="327.5" r="7.55"/><circle cx="1417.5" cy="327.8" r="7.55"/><circle cx="1422.5" cy="327.0" r="7.55"/><circle cx="1427.5" cy="326.9" r="7.55"/><circle cx="1432.5" cy="327.4" r="7.55"/><circle cx="1437.5" cy="327.0" r="7.55"/><circle cx="1403.8" cy="330.0" r="7.55"/><circle cx="1409.1" cy="329.4" r="7.55"/><circle cx="1414.5" cy="329.5" r="7.55"/><circle cx="1419.9" cy="329.4" r="7.55"/><circle cx="1425.2" cy="330.2" r="7.55"/><circle cx="1430.6" cy="329.6" r="7.55"/><circle cx="1436.0" cy="330.0" r="7.55"/><circle cx="1405.0" cy="333.0" r="7.55"/><circle cx="1409.9" cy="332.5" r="7.55"/><circle cx="1414.8" cy="333.4" r="7.55"/><circle cx="1419.8" cy="333.9" r="7.55"/><circle cx="1424.7" cy="332.6" r="7.55"/><circle cx="1429.6" cy="333.4" r="7.55"/><circle cx="1434.5" cy="333.0" r="7.55"/><circle cx="1407.0" cy="336.5" r="7.55"/><circle cx="1412.0" cy="336.3" r="7.55"/><circle cx="1417.1" cy="337.2" r="7.55"/><circle cx="1422.2" cy="336.7" r="7.55"/><circle cx="1427.2" cy="336.0" r="7.55"/><circle cx="1432.2" cy="336.5" r="7.55"/><circle cx="1409.0" cy="340.0" r="7.55"/><circle cx="1414.2" cy="339.4" r="7.55"/><circle cx="1419.5" cy="339.0" r="7.55"/><circle cx="1424.8" cy="340.0" r="7.55"/><circle cx="1430.0" cy="340.0" r="7.55"/><circle cx="1410.8" cy="343.5" r="7.55"/><circle cx="1415.7" cy="343.3" r="7.55"/><circle cx="1420.6" cy="342.8" r="7.55"/><circle cx="1425.6" cy="343.2" r="7.55"/><circle cx="1430.5" cy="343.5" r="7.55"/><circle cx="1412.5" cy="347.0" r="7.55"/><circle cx="1417.1" cy="346.6" r="7.55"/><circle cx="1421.8" cy="347.5" r="7.55"/><circle cx="1426.4" cy="346.3" r="7.55"/><circle cx="1431.0" cy="347.0" r="7.55"/><circle cx="1413.0" cy="350.0" r="7.55"/><circle cx="1417.4" cy="351.0" r="7.55"/><circle cx="1421.8" cy="350.0" r="7.55"/><circle cx="1426.1" cy="350.2" r="7.55"/><circle cx="1430.5" cy="350.0" r="7.55"/><circle cx="1413.5" cy="353.0" r="7.55"/><circle cx="1419.0" cy="352.9" r="7.55"/><circle cx="1424.5" cy="353.7" r="7.55"/><circle cx="1430.0" cy="353.0" r="7.55"/><circle cx="1413.7" cy="356.2" r="7.55"/><circle cx="1418.6" cy="356.9" r="7.55"/><circle cx="1423.5" cy="356.4" r="7.55"/><circle cx="1428.5" cy="356.2" r="7.55"/><circle cx="1413.8" cy="359.5" r="7.55"/><circle cx="1418.2" cy="359.5" r="7.55"/><circle cx="1422.6" cy="359.9" r="7.55"/><circle cx="1427.0" cy="359.5" r="7.55"/><circle cx="1364.5" cy="265.5" r="7.55"/><circle cx="1375.8" cy="268.3" r="7.55"/><circle cx="1386.7" cy="265.7" r="7.55"/><circle cx="1398.0" cy="267.2" r="7.55"/><circle cx="1446.0" cy="266.3" r="7.55"/><circle cx="1456.1" cy="268.1" r="7.55"/><circle cx="1464.3" cy="264.8" r="7.55"/><circle cx="1475.0" cy="267.2" r="7.55"/><circle cx="1363.5" cy="319.4" r="7.55"/><circle cx="1376.2" cy="322.0" r="7.55"/><circle cx="1388.9" cy="319.2" r="7.55"/><circle cx="1400.0" cy="320.5" r="7.55"/><circle cx="1440.0" cy="317.6" r="7.55"/><circle cx="1453.2" cy="320.6" r="7.55"/><circle cx="1466.5" cy="318.2" r="7.55"/><circle cx="1477.7" cy="319.3" r="7.55"/><circle cx="1397.7" cy="236.9" r="7.55"/><circle cx="1411.9" cy="238.4" r="7.55"/><circle cx="1440.5" cy="235.9" r="7.55"/><circle cx="1444.2" cy="239.6" r="7.55"/><circle cx="1426.0" cy="239.5" r="7.55"/><circle cx="1477.7" cy="281.8" r="7.55"/><circle cx="1361.7" cy="283.0" r="7.55"/><circle cx="1356.5" cy="295.4" r="7.55"/><circle cx="1485.3" cy="297.3" r="7.55"/><circle cx="1484.5" cy="308.0" r="7.55"/><circle cx="1357.0" cy="309.0" r="7.55"/><circle cx="1420.1" cy="204.2" r="7.55"/><circle cx="1414.4" cy="219.7" r="7.55"/><circle cx="1424.3" cy="224.7" r="7.55"/><circle cx="1417.5" cy="369.4" r="7.55"/><circle cx="1420.6" cy="382.4" r="7.55"/><circle cx="1419.0" cy="231.0" r="7.55"/><circle cx="1381.5" cy="264.4" r="7.55"/><circle cx="1462.8" cy="265.7" r="7.55"/><circle cx="1400.0" cy="259.0" r="7.55"/><circle cx="1440.0" cy="259.0" r="7.55"/><circle cx="1420.0" cy="259.0" r="7.55"/><circle cx="1410.0" cy="259.0" r="7.55"/><circle cx="1430.0" cy="259.0" r="7.55"/></g>
<g fill="#ff2600"><circle cx="1419.9" cy="408.7" r="7.55"/><circle cx="1425.0" cy="415.9" r="7.55"/><circle cx="1415.4" cy="421.9" r="7.55"/><circle cx="1398.6" cy="429.4" r="7.55"/><circle cx="1435.4" cy="427.3" r="7.55"/><circle cx="1421.0" cy="428.0" r="7.55"/><circle cx="1409.0" cy="432.0" r="7.55"/><circle cx="1428.0" cy="434.0" r="7.55"/><circle cx="1396.5" cy="441.6" r="7.55"/><circle cx="1404.5" cy="441.6" r="7.55"/><circle cx="1412.5" cy="441.6" r="7.55"/><circle cx="1420.5" cy="441.6" r="7.55"/><circle cx="1428.5" cy="441.6" r="7.55"/><circle cx="1436.5" cy="441.6" r="7.55"/><circle cx="1444.4" cy="441.6" r="7.55"/></g>
<g stroke="#ff2600" fill="none"><line x1="1420.2" y1="253.6" x2="1420.2" y2="353.7" stroke-width="4.3"/><line x1="1347" y1="303.6" x2="1492.8" y2="303.6" stroke-width="5"/><line x1="1384.25" y1="253.6" x2="1455.75" y2="253.6" stroke-width="4.1" stroke-linecap="round"/><line x1="1384.25" y1="353.7" x2="1455.75" y2="353.7" stroke-width="4.1" stroke-linecap="round"/></g>
<g fill="#000"><rect x="1630.3" y="158.8" width="15.5" height="15.5"/><rect x="1602.8" y="243.8" width="15.5" height="15.5"/><rect x="1621.3" y="257.8" width="15.5" height="15.5"/><rect x="1640.0" y="267.1" width="15.5" height="15.5"/><rect x="1658.2" y="258.8" width="15.5" height="15.5"/><rect x="1658.2" y="275.8" width="15.5" height="15.5"/><rect x="1676.7" y="275.1" width="15.5" height="15.5"/><rect x="1565.2" y="291.9" width="15.5" height="15.5"/><rect x="1584.0" y="288.2" width="15.5" height="15.5"/><rect x="1602.8" y="292.9" width="15.5" height="15.5"/><rect x="1621.3" y="292.2" width="15.5" height="15.5"/><rect x="1640.0" y="302.1" width="15.5" height="15.5"/><rect x="1658.2" y="298.1" width="15.5" height="15.5"/><rect x="1676.7" y="300.6" width="15.5" height="15.5"/><rect x="1695.5" y="299.1" width="15.5" height="15.5"/><rect x="1584.0" y="311.4" width="15.5" height="15.5"/><rect x="1602.8" y="308.4" width="15.5" height="15.5"/><rect x="1640.0" y="320.9" width="15.5" height="15.5"/><rect x="1658.2" y="314.6" width="15.5" height="15.5"/><rect x="1602.8" y="329.1" width="15.5" height="15.5"/></g>
<path d="M1311.8 115.6V448.8H1748" fill="none" stroke="#000" stroke-width="4.0" stroke-linejoin="miter"/>
<line x1="1304.8" y1="180.5" x2="1311.8" y2="180.5" stroke="#000" stroke-width="4.0"/>
<text transform="translate(1298.30 191.10)" font-family="Liberation Sans, Arial, sans-serif" font-size="30.5" font-weight="bold" font-style="normal" text-anchor="end" fill="#000" >0.04</text>
<line x1="1304.8" y1="311.2" x2="1311.8" y2="311.2" stroke="#000" stroke-width="4.0"/>
<text transform="translate(1298.30 321.80)" font-family="Liberation Sans, Arial, sans-serif" font-size="30.5" font-weight="bold" font-style="normal" text-anchor="end" fill="#000" >0.02</text>
<line x1="1304.8" y1="442.0" x2="1311.8" y2="442.0" stroke="#000" stroke-width="4.0"/>
<text transform="translate(1298.30 452.60)" font-family="Liberation Sans, Arial, sans-serif" font-size="30.5" font-weight="bold" font-style="normal" text-anchor="end" fill="#000" >0.00</text>
<line x1="1420.8" y1="448.8" x2="1420.8" y2="455.3" stroke="#000" stroke-width="4.0"/>
<line x1="1638.5" y1="448.8" x2="1638.5" y2="455.3" stroke="#000" stroke-width="4.0"/>
<g fill="#ff2600"><rect x="1602.5" y="434.9" width="15.5" height="15.5"/><rect x="1621.3" y="434.9" width="15.5" height="15.5"/><rect x="1640.0" y="434.9" width="15.5" height="15.5"/><rect x="1658.5" y="434.9" width="15.5" height="15.5"/></g>
<g stroke="#ff2600" fill="none"><line x1="1638.7" y1="250.9" x2="1638.7" y2="383.7" stroke-width="4.3"/><line x1="1565.5" y1="317.2" x2="1710.8" y2="317.2" stroke-width="4.6"/><line x1="1602.55" y1="250.9" x2="1673.95" y2="250.9" stroke-width="4.1" stroke-linecap="round"/><line x1="1602.55" y1="383.7" x2="1673.95" y2="383.7" stroke-width="4.1" stroke-linecap="round"/></g>
<text transform="translate(1421.00 489.30)" font-family="Liberation Sans, Arial, sans-serif" font-size="31.6" font-weight="bold" font-style="normal" text-anchor="middle" fill="#000" >Died</text>
<text transform="translate(1638.40 489.30)" font-family="Liberation Sans, Arial, sans-serif" font-size="31.6" font-weight="bold" font-style="normal" text-anchor="middle" fill="#000" >Survived</text>
<text transform="translate(1207.00 273.90) rotate(-90) scale(0.965 1)" font-family="Liberation Sans, Arial, sans-serif" font-size="31.6" font-weight="bold" font-style="normal" text-anchor="middle" fill="#000" >Pre-exposure growth rate</text>
<path d="M1422 130.6V111.2H1636.2V130.6" fill="none" stroke="#000" stroke-width="4" stroke-linecap="round" stroke-linejoin="miter"/>
<text transform="translate(1530.20 97.00)" font-family="Liberation Sans, Arial, sans-serif" font-size="31.2" font-weight="normal" font-style="italic" text-anchor="middle" fill="#000" >P = 0.16</text>
</g>
<g id="pc">
<g fill="#000"><circle cx="1418.3" cy="757.0" r="7.3"/><circle cx="1423.6" cy="756.6" r="7.3"/><circle cx="1428.9" cy="756.3" r="7.3"/><circle cx="1434.1" cy="757.3" r="7.3"/><circle cx="1439.4" cy="756.1" r="7.3"/><circle cx="1444.7" cy="757.0" r="7.3"/><circle cx="1406.5" cy="770.0" r="7.3"/><circle cx="1411.5" cy="770.1" r="7.3"/><circle cx="1416.5" cy="769.7" r="7.3"/><circle cx="1421.4" cy="769.1" r="7.3"/><circle cx="1426.4" cy="770.0" r="7.3"/><circle cx="1431.4" cy="769.1" r="7.3"/><circle cx="1436.4" cy="769.9" r="7.3"/><circle cx="1441.4" cy="769.1" r="7.3"/><circle cx="1446.3" cy="769.2" r="7.3"/><circle cx="1451.3" cy="769.8" r="7.3"/><circle cx="1456.3" cy="770.0" r="7.3"/><circle cx="1405.0" cy="775.0" r="7.3"/><circle cx="1410.2" cy="775.7" r="7.3"/><circle cx="1415.3" cy="774.2" r="7.3"/><circle cx="1420.5" cy="774.4" r="7.3"/><circle cx="1425.6" cy="775.3" r="7.3"/><circle cx="1430.8" cy="775.9" r="7.3"/><circle cx="1436.0" cy="775.2" r="7.3"/><circle cx="1441.1" cy="774.8" r="7.3"/><circle cx="1446.3" cy="776.0" r="7.3"/><circle cx="1451.4" cy="774.1" r="7.3"/><circle cx="1456.6" cy="775.0" r="7.3"/><circle cx="1388.5" cy="787.5" r="7.3"/><circle cx="1393.8" cy="788.2" r="7.3"/><circle cx="1399.2" cy="787.1" r="7.3"/><circle cx="1404.5" cy="786.8" r="7.3"/><circle cx="1409.8" cy="786.7" r="7.3"/><circle cx="1415.1" cy="787.1" r="7.3"/><circle cx="1420.5" cy="788.1" r="7.3"/><circle cx="1425.8" cy="786.9" r="7.3"/><circle cx="1431.1" cy="787.7" r="7.3"/><circle cx="1436.4" cy="787.8" r="7.3"/><circle cx="1441.8" cy="787.2" r="7.3"/><circle cx="1447.1" cy="787.6" r="7.3"/><circle cx="1452.4" cy="786.6" r="7.3"/><circle cx="1457.7" cy="786.6" r="7.3"/><circle cx="1463.0" cy="786.9" r="7.3"/><circle cx="1468.4" cy="787.9" r="7.3"/><circle cx="1473.7" cy="787.5" r="7.3"/><circle cx="1377.6" cy="799.8" r="7.3"/><circle cx="1382.9" cy="799.7" r="7.3"/><circle cx="1388.3" cy="799.4" r="7.3"/><circle cx="1393.6" cy="800.0" r="7.3"/><circle cx="1398.9" cy="799.7" r="7.3"/><circle cx="1404.2" cy="799.4" r="7.3"/><circle cx="1409.6" cy="800.4" r="7.3"/><circle cx="1414.9" cy="800.2" r="7.3"/><circle cx="1420.2" cy="799.3" r="7.3"/><circle cx="1425.6" cy="799.9" r="7.3"/><circle cx="1430.9" cy="799.9" r="7.3"/><circle cx="1436.2" cy="800.6" r="7.3"/><circle cx="1441.6" cy="800.3" r="7.3"/><circle cx="1446.9" cy="799.4" r="7.3"/><circle cx="1452.2" cy="800.8" r="7.3"/><circle cx="1457.5" cy="799.0" r="7.3"/><circle cx="1462.9" cy="799.6" r="7.3"/><circle cx="1468.2" cy="800.3" r="7.3"/><circle cx="1473.5" cy="799.1" r="7.3"/><circle cx="1478.9" cy="799.8" r="7.3"/><circle cx="1484.2" cy="799.8" r="7.3"/><circle cx="1377.6" cy="802.9" r="7.3"/><circle cx="1382.9" cy="802.0" r="7.3"/><circle cx="1388.2" cy="803.2" r="7.3"/><circle cx="1393.6" cy="803.4" r="7.3"/><circle cx="1398.9" cy="803.0" r="7.3"/><circle cx="1404.2" cy="803.7" r="7.3"/><circle cx="1409.5" cy="802.5" r="7.3"/><circle cx="1414.9" cy="803.3" r="7.3"/><circle cx="1420.2" cy="803.1" r="7.3"/><circle cx="1425.5" cy="803.1" r="7.3"/><circle cx="1430.8" cy="802.8" r="7.3"/><circle cx="1436.2" cy="803.6" r="7.3"/><circle cx="1441.5" cy="803.8" r="7.3"/><circle cx="1446.8" cy="802.8" r="7.3"/><circle cx="1452.1" cy="803.2" r="7.3"/><circle cx="1457.5" cy="802.0" r="7.3"/><circle cx="1462.8" cy="803.3" r="7.3"/><circle cx="1468.1" cy="803.2" r="7.3"/><circle cx="1473.4" cy="803.9" r="7.3"/><circle cx="1478.8" cy="803.5" r="7.3"/><circle cx="1484.1" cy="802.9" r="7.3"/><circle cx="1377.6" cy="806.0" r="7.3"/><circle cx="1382.9" cy="805.6" r="7.3"/><circle cx="1388.2" cy="805.8" r="7.3"/><circle cx="1393.6" cy="806.3" r="7.3"/><circle cx="1398.9" cy="805.0" r="7.3"/><circle cx="1404.2" cy="805.9" r="7.3"/><circle cx="1409.5" cy="805.3" r="7.3"/><circle cx="1414.8" cy="805.2" r="7.3"/><circle cx="1420.2" cy="805.1" r="7.3"/><circle cx="1425.5" cy="806.5" r="7.3"/><circle cx="1430.8" cy="805.3" r="7.3"/><circle cx="1436.1" cy="805.5" r="7.3"/><circle cx="1441.4" cy="805.8" r="7.3"/><circle cx="1446.8" cy="806.7" r="7.3"/><circle cx="1452.1" cy="805.2" r="7.3"/><circle cx="1457.4" cy="805.9" r="7.3"/><circle cx="1462.7" cy="806.1" r="7.3"/><circle cx="1468.0" cy="806.8" r="7.3"/><circle cx="1473.4" cy="806.6" r="7.3"/><circle cx="1478.7" cy="806.7" r="7.3"/><circle cx="1484.0" cy="806.0" r="7.3"/><circle cx="1378.2" cy="809.5" r="7.3"/><circle cx="1383.4" cy="809.1" r="7.3"/><circle cx="1388.7" cy="809.3" r="7.3"/><circle cx="1394.0" cy="809.2" r="7.3"/><circle cx="1399.2" cy="810.3" r="7.3"/><circle cx="1404.5" cy="810.4" r="7.3"/><circle cx="1409.8" cy="808.8" r="7.3"/><circle cx="1415.1" cy="808.9" r="7.3"/><circle cx="1420.4" cy="809.0" r="7.3"/><circle cx="1425.6" cy="809.0" r="7.3"/><circle cx="1430.9" cy="809.5" r="7.3"/><circle cx="1436.2" cy="809.7" r="7.3"/><circle cx="1441.5" cy="809.0" r="7.3"/><circle cx="1446.7" cy="808.5" r="7.3"/><circle cx="1452.0" cy="809.3" r="7.3"/><circle cx="1457.3" cy="809.2" r="7.3"/><circle cx="1462.6" cy="809.6" r="7.3"/><circle cx="1467.8" cy="810.4" r="7.3"/><circle cx="1473.1" cy="809.9" r="7.3"/><circle cx="1478.4" cy="809.5" r="7.3"/><circle cx="1483.7" cy="809.5" r="7.3"/><circle cx="1378.7" cy="813.0" r="7.3"/><circle cx="1383.9" cy="813.2" r="7.3"/><circle cx="1389.2" cy="813.4" r="7.3"/><circle cx="1394.4" cy="812.1" r="7.3"/><circle cx="1399.6" cy="813.8" r="7.3"/><circle cx="1404.8" cy="813.6" r="7.3"/><circle cx="1410.1" cy="813.7" r="7.3"/><circle cx="1415.3" cy="813.6" r="7.3"/><circle cx="1420.5" cy="812.8" r="7.3"/><circle cx="1425.8" cy="812.8" r="7.3"/><circle cx="1431.0" cy="812.2" r="7.3"/><circle cx="1436.2" cy="813.3" r="7.3"/><circle cx="1441.5" cy="812.1" r="7.3"/><circle cx="1446.7" cy="812.1" r="7.3"/><circle cx="1451.9" cy="812.4" r="7.3"/><circle cx="1457.2" cy="812.3" r="7.3"/><circle cx="1462.4" cy="812.7" r="7.3"/><circle cx="1467.6" cy="812.1" r="7.3"/><circle cx="1472.8" cy="812.0" r="7.3"/><circle cx="1478.1" cy="812.3" r="7.3"/><circle cx="1483.3" cy="813.0" r="7.3"/><circle cx="1402.5" cy="820.0" r="7.3"/><circle cx="1407.9" cy="819.2" r="7.3"/><circle cx="1413.3" cy="819.7" r="7.3"/><circle cx="1418.7" cy="819.1" r="7.3"/><circle cx="1424.1" cy="820.7" r="7.3"/><circle cx="1429.5" cy="820.2" r="7.3"/><circle cx="1435.0" cy="819.3" r="7.3"/><circle cx="1440.4" cy="819.5" r="7.3"/><circle cx="1445.8" cy="819.7" r="7.3"/><circle cx="1451.2" cy="819.7" r="7.3"/><circle cx="1456.6" cy="820.0" r="7.3"/><circle cx="1406.8" cy="823.6" r="7.3"/><circle cx="1411.7" cy="822.8" r="7.3"/><circle cx="1416.7" cy="824.3" r="7.3"/><circle cx="1421.6" cy="824.6" r="7.3"/><circle cx="1426.6" cy="823.5" r="7.3"/><circle cx="1431.5" cy="823.6" r="7.3"/><circle cx="1436.5" cy="822.8" r="7.3"/><circle cx="1441.4" cy="822.8" r="7.3"/><circle cx="1446.4" cy="823.3" r="7.3"/><circle cx="1451.3" cy="823.1" r="7.3"/><circle cx="1456.3" cy="823.6" r="7.3"/><circle cx="1411.0" cy="827.2" r="7.3"/><circle cx="1416.0" cy="827.9" r="7.3"/><circle cx="1421.0" cy="826.5" r="7.3"/><circle cx="1426.0" cy="826.2" r="7.3"/><circle cx="1431.0" cy="828.1" r="7.3"/><circle cx="1436.0" cy="827.3" r="7.3"/><circle cx="1441.0" cy="826.5" r="7.3"/><circle cx="1446.0" cy="827.3" r="7.3"/><circle cx="1451.0" cy="826.3" r="7.3"/><circle cx="1456.0" cy="827.2" r="7.3"/><circle cx="1424.5" cy="837.5" r="7.3"/><circle cx="1428.8" cy="837.6" r="7.3"/><circle cx="1433.2" cy="838.5" r="7.3"/><circle cx="1437.5" cy="837.5" r="7.3"/><circle cx="1431.0" cy="694.0" r="7.3"/><circle cx="1431.2" cy="700.7" r="7.3"/><circle cx="1431.3" cy="711.5" r="7.3"/><circle cx="1430.3" cy="721.9" r="7.3"/><circle cx="1431.9" cy="731.7" r="7.3"/><circle cx="1426.4" cy="741.0" r="7.3"/><circle cx="1434.4" cy="741.0" r="7.3"/><circle cx="1428.3" cy="747.5" r="7.3"/><circle cx="1434.4" cy="748.0" r="7.3"/><circle cx="1431.0" cy="752.0" r="7.3"/><circle cx="1431.0" cy="649.4" r="7.3"/><circle cx="1431.0" cy="674.3" r="7.3"/><circle cx="1427.5" cy="843.2" r="7.3"/><circle cx="1431.0" cy="763.0" r="7.3"/><circle cx="1425.0" cy="763.0" r="7.3"/><circle cx="1437.0" cy="763.0" r="7.3"/><circle cx="1420.0" cy="781.0" r="7.3"/><circle cx="1431.0" cy="781.0" r="7.3"/><circle cx="1442.0" cy="781.0" r="7.3"/><circle cx="1409.0" cy="781.0" r="7.3"/><circle cx="1453.0" cy="781.0" r="7.3"/><circle cx="1395.0" cy="793.5" r="7.3"/><circle cx="1407.0" cy="793.5" r="7.3"/><circle cx="1419.0" cy="793.5" r="7.3"/><circle cx="1431.0" cy="793.5" r="7.3"/><circle cx="1443.0" cy="793.5" r="7.3"/><circle cx="1455.0" cy="793.5" r="7.3"/><circle cx="1467.0" cy="793.5" r="7.3"/></g>
<g stroke="#ff2600" fill="none"><line x1="1431.1" y1="769.1" x2="1431.1" y2="819.8" stroke-width="4.1"/><line x1="1369.8" y1="794.3" x2="1491.8" y2="794.3" stroke-width="5.2"/><line x1="1400.85" y1="769.1" x2="1461.15" y2="769.1" stroke-width="4.1" stroke-linecap="round"/><line x1="1400.85" y1="819.8" x2="1461.15" y2="819.8" stroke-width="4.1" stroke-linecap="round"/></g>
<g fill="#000"><rect x="1553.2" y="770.4" width="14.6" height="14.6"/><rect x="1553.2" y="804.9" width="14.6" height="14.6"/><rect x="1566.6" y="767.9" width="14.6" height="14.6"/><rect x="1566.6" y="782.2" width="14.6" height="14.6"/><rect x="1566.6" y="798.0" width="14.6" height="14.6"/><rect x="1566.6" y="813.5" width="14.6" height="14.6"/><rect x="1580.3" y="762.3" width="14.6" height="14.6"/><rect x="1580.3" y="781.0" width="14.6" height="14.6"/><rect x="1580.3" y="796.5" width="14.6" height="14.6"/><rect x="1593.5" y="776.9" width="14.6" height="14.6"/><rect x="1593.5" y="792.1" width="14.6" height="14.6"/><rect x="1593.5" y="812.0" width="14.6" height="14.6"/><rect x="1606.9" y="783.4" width="14.6" height="14.6"/><rect x="1606.9" y="807.0" width="14.6" height="14.6"/><rect x="1620.6" y="769.5" width="14.6" height="14.6"/><rect x="1620.6" y="804.9" width="14.6" height="14.6"/><rect x="1620.6" y="821.3" width="14.6" height="14.6"/><rect x="1634.0" y="782.8" width="14.6" height="14.6"/><rect x="1634.0" y="807.6" width="14.6" height="14.6"/><rect x="1647.3" y="780.3" width="14.6" height="14.6"/><rect x="1647.3" y="796.5" width="14.6" height="14.6"/><rect x="1647.3" y="814.8" width="14.6" height="14.6"/><rect x="1660.9" y="775.0" width="14.6" height="14.6"/><rect x="1660.9" y="794.2" width="14.6" height="14.6"/></g>
<g stroke="#ff2600" fill="none"><line x1="1614.6" y1="782.2" x2="1614.6" y2="815.9" stroke-width="4"/><line x1="1553.2" y1="799.3" x2="1675.4" y2="799.3" stroke-width="4.8"/><line x1="1584.1" y1="782.2" x2="1644.6" y2="782.2" stroke-width="4" stroke-linecap="round"/><line x1="1584.1" y1="815.9" x2="1644.6" y2="815.9" stroke-width="4" stroke-linecap="round"/></g>
<path d="M1297.0 564.6H1309.5V893.0H1736.7" fill="none" stroke="#000" stroke-width="4.0" stroke-linejoin="miter"/>
<line x1="1297.0" y1="893.0" x2="1309.5" y2="893.0" stroke="#000" stroke-width="4.0"/>
<text transform="translate(1293.20 904.00) scale(0.93 1)" font-family="Liberation Sans, Arial, sans-serif" font-size="31.6" font-weight="bold" font-style="normal" text-anchor="end" fill="#000" >0</text>
<line x1="1297.0" y1="827.3" x2="1309.5" y2="827.3" stroke="#000" stroke-width="4.0"/>
<text transform="translate(1293.20 838.32) scale(0.93 1)" font-family="Liberation Sans, Arial, sans-serif" font-size="31.6" font-weight="bold" font-style="normal" text-anchor="end" fill="#000" >2</text>
<line x1="1297.0" y1="761.6" x2="1309.5" y2="761.6" stroke="#000" stroke-width="4.0"/>
<text transform="translate(1293.20 772.64) scale(0.93 1)" font-family="Liberation Sans, Arial, sans-serif" font-size="31.6" font-weight="bold" font-style="normal" text-anchor="end" fill="#000" >4</text>
<line x1="1297.0" y1="696.0" x2="1309.5" y2="696.0" stroke="#000" stroke-width="4.0"/>
<text transform="translate(1293.20 706.96) scale(0.93 1)" font-family="Liberation Sans, Arial, sans-serif" font-size="31.6" font-weight="bold" font-style="normal" text-anchor="end" fill="#000" >6</text>
<line x1="1297.0" y1="630.3" x2="1309.5" y2="630.3" stroke="#000" stroke-width="4.0"/>
<text transform="translate(1293.20 641.28) scale(0.93 1)" font-family="Liberation Sans, Arial, sans-serif" font-size="31.6" font-weight="bold" font-style="normal" text-anchor="end" fill="#000" >8</text>
<text transform="translate(1293.20 575.60) scale(0.93 1)" font-family="Liberation Sans, Arial, sans-serif" font-size="31.6" font-weight="bold" font-style="normal" text-anchor="end" fill="#000" >10</text>
<line x1="1431.5" y1="893.0" x2="1431.5" y2="905.0" stroke="#000" stroke-width="4.0"/>
<line x1="1614.7" y1="893.0" x2="1614.7" y2="905.0" stroke="#000" stroke-width="4.0"/>
<text transform="translate(1431.50 935.00)" font-family="Liberation Sans, Arial, sans-serif" font-size="30.8" font-weight="bold" font-style="normal" text-anchor="middle" fill="#000" >Died</text>
<text transform="translate(1614.70 935.00)" font-family="Liberation Sans, Arial, sans-serif" font-size="30.8" font-weight="bold" font-style="normal" text-anchor="middle" fill="#000" >Survived</text>
<text transform="translate(1247.30 728.50) rotate(-90) scale(0.94 1)" font-family="Liberation Sans, Arial, sans-serif" font-size="31.7" font-weight="bold" font-style="normal" text-anchor="middle" fill="#000" >Cell Size at birth (μm<tspan dy="-11" font-size="21.5">2</tspan><tspan dy="11">)</tspan></text>
<path d="M1429.7 616.5V597.7H1612.6V616.5" fill="none" stroke="#000" stroke-width="4" stroke-linecap="round" stroke-linejoin="miter"/>
<text transform="translate(1534.00 584.30)" font-family="Liberation Sans, Arial, sans-serif" font-size="30.2" font-weight="normal" font-style="italic" text-anchor="middle" fill="#000" >P = 0.54</text>
</g>
</svg>
</body></html>
